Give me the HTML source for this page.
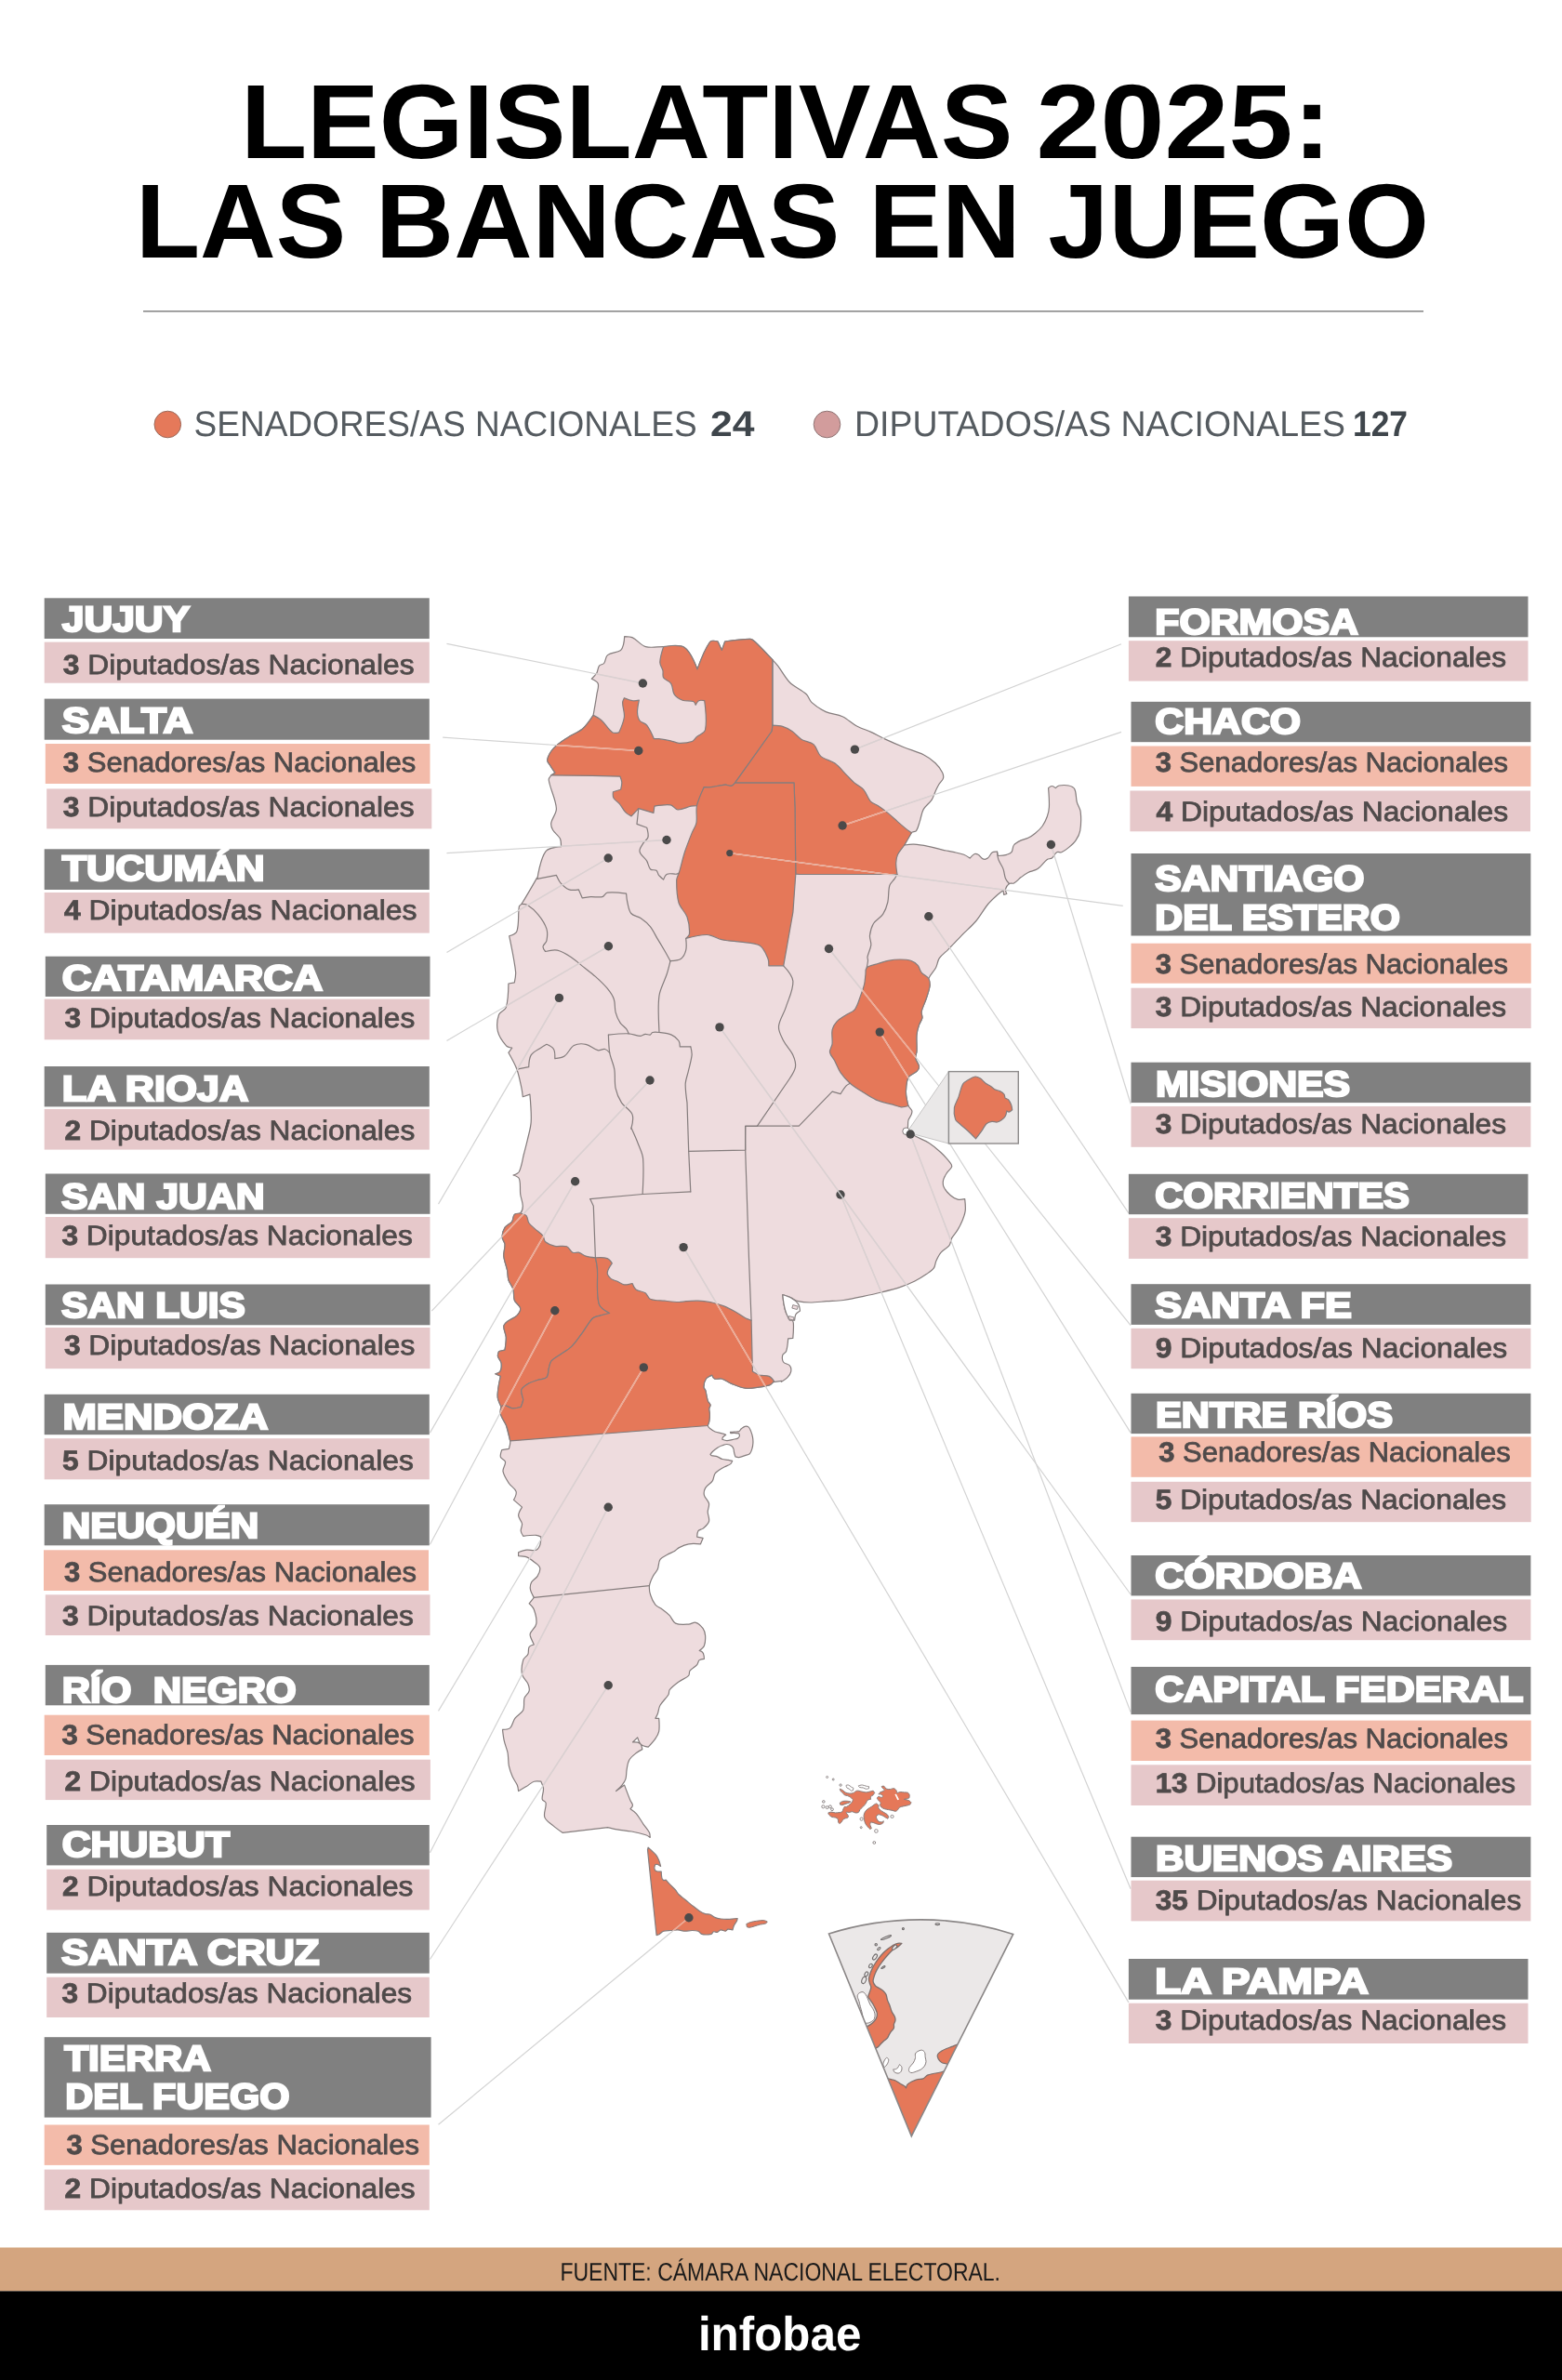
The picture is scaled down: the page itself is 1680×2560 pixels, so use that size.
<!DOCTYPE html>
<html><head><meta charset="utf-8"><title>Legislativas 2025</title>
<style>
html,body{margin:0;padding:0;background:#fff;}
svg{display:block;font-family:"Liberation Sans", sans-serif;will-change:transform;}
text{text-rendering:geometricPrecision;}
</style></head><body>
<svg width="1680" height="2560" viewBox="0 0 1680 2560">
<rect width="1680" height="2560" fill="#fff"/>
<path d="M638.1,769.4 C638.1,769.4 640.8,754.1 641.9,746.8 C642.4,743.1 644.4,738.8 643.2,735.3 C642.3,732.7 636.3,730.2 636.3,730.2 C636.3,730.2 640.5,726.2 641.9,723.8 C643.2,721.6 642.9,718.2 644.5,716.1 C645.6,714.6 648.5,714.9 649.6,713.5 C651.5,711.1 651.1,706.5 653.5,704.6 C657.3,701.6 663.6,702.1 667.6,699.4 C669.5,698.1 670.0,695.2 670.6,693.0 C671.3,690.4 671.7,684.6 671.7,684.6 C671.7,684.6 677.9,684.7 680.4,685.9 C685.3,688.3 689.2,694.1 694.4,695.6 C700.3,697.3 707.5,695.5 713.6,695.6 C720.8,695.7 730.2,692.4 736.2,696.4 C743.5,701.2 750.0,719.9 750.0,719.9 C750.0,719.9 757.5,698.8 763.6,690.5 C765.2,688.3 772.0,690.0 772.0,690.0 L776.4,699.4 L779.7,690.0 C779.7,690.0 798.3,687.3 807.1,687.4 C809.0,687.4 810.8,689.2 812.2,690.5 C818.5,696.4 825.0,703.5 830.9,709.7 C832.8,711.7 834.9,713.9 836.6,716.1 C840.9,721.7 844.4,729.0 849.4,734.0 C854.4,739.0 862.1,742.0 867.3,746.8 C869.7,749.0 870.4,753.2 872.8,755.4 C877.2,759.4 882.8,763.1 888.2,765.6 C893.6,768.1 900.7,768.2 906.1,770.7 C911.5,773.2 916.3,778.2 921.5,781.0 C926.2,783.5 932.0,785.2 936.8,787.4 C941.8,789.7 947.2,792.8 952.2,795.1 C958.7,798.1 966.1,801.3 972.7,804.0 C979.2,806.6 986.9,808.6 993.2,811.7 C997.7,813.9 1002.4,817.3 1006.0,820.7 C1009.0,823.5 1011.8,827.3 1013.6,830.9 C1014.5,832.7 1015.0,835.3 1014.4,837.3 C1013.7,839.7 1011.1,841.5 1009.8,843.7 C1008.4,846.1 1007.2,848.9 1006.0,851.4 C1004.7,854.3 1003.8,857.8 1002.1,860.4 C999.7,864.0 995.3,866.8 993.2,870.6 C991.1,874.3 990.7,879.3 989.3,883.4 C988.2,886.7 987.5,890.8 985.5,893.6 C984.5,895.0 981.5,894.3 980.4,895.7 C977.3,899.5 972.7,909.0 972.7,909.0 C972.7,909.0 979.6,908.0 982.9,908.2 C987.9,908.5 993.4,909.4 998.3,910.3 C1003.3,911.3 1008.7,913.0 1013.6,914.1 C1017.7,915.0 1022.4,915.8 1026.5,916.7 C1029.8,917.4 1033.6,918.1 1036.7,919.3 C1038.9,920.2 1043.1,923.1 1043.1,923.1 C1043.1,923.1 1046.2,919.4 1048.2,918.5 C1049.4,918.0 1051.0,918.6 1052.1,919.3 C1054.0,920.4 1055.1,923.1 1057.2,923.9 C1058.7,924.5 1061.0,924.1 1062.3,923.1 C1064.4,921.6 1065.2,918.2 1067.4,916.7 C1068.8,915.8 1072.5,916.2 1072.5,916.2 L1073.3,920.5 C1073.3,920.5 1079.8,920.1 1082.8,919.3 C1084.6,918.8 1086.8,918.2 1087.9,916.7 C1089.5,914.6 1088.9,911.0 1090.5,909.0 C1092.4,906.7 1095.6,905.2 1098.2,903.9 C1100.5,902.7 1103.5,902.5 1105.8,901.3 C1108.4,900.0 1111.2,898.1 1113.5,896.2 C1116.2,894.0 1119.2,891.3 1121.2,888.5 C1123.3,885.5 1125.1,881.7 1126.3,878.3 C1127.4,875.1 1128.3,871.4 1128.4,868.0 C1128.7,861.5 1127.6,847.6 1127.6,847.6 C1127.6,847.6 1130.0,845.5 1131.4,845.5 C1132.8,845.5 1135.3,847.6 1135.3,847.6 C1135.3,847.6 1137.7,845.3 1139.1,845.0 C1142.3,844.4 1146.2,844.3 1149.4,845.0 C1151.7,845.5 1154.7,846.7 1155.8,848.8 C1157.8,852.9 1157.1,858.5 1158.3,862.9 C1159.2,866.3 1161.8,869.7 1162.2,873.2 C1162.9,879.7 1162.8,887.2 1161.7,893.6 C1161.1,897.2 1159.1,900.9 1157.1,903.9 C1155.1,906.8 1152.1,909.4 1149.4,911.6 C1147.1,913.5 1144.4,915.6 1141.7,916.7 C1140.2,917.3 1138.0,915.8 1136.6,916.7 C1134.4,918.1 1133.5,921.5 1131.4,923.1 C1130.1,924.1 1127.6,923.4 1126.3,924.4 C1122.6,927.2 1119.9,932.0 1116.1,934.6 C1113.2,936.6 1108.9,936.9 1105.8,938.5 C1103.2,939.8 1100.5,941.8 1098.2,943.6 C1095.6,945.5 1093.3,948.5 1090.5,950.0 C1089.1,950.8 1086.7,949.5 1085.4,950.5 C1083.6,951.8 1082.0,954.2 1081.5,956.4 C1081.1,958.0 1082.8,961.5 1082.8,961.5 L1079.7,962.3 L1079.0,957.7 C1079.0,957.7 1074.4,961.0 1072.5,962.8 C1069.1,965.9 1065.2,969.4 1062.3,973.0 C1057.8,978.5 1054.1,985.6 1049.5,991.0 C1045.0,996.3 1039.0,1001.3 1034.1,1006.3 C1029.3,1011.2 1024.1,1016.9 1019.3,1021.8 C1016.5,1024.7 1012.5,1027.3 1010.3,1030.7 C1008.4,1033.6 1008.1,1037.9 1006.5,1041.0 C1004.4,1044.9 1000.2,1048.3 998.8,1052.5 C998.0,1054.9 1000.4,1057.7 1000.1,1060.2 C999.5,1064.8 997.6,1069.8 996.2,1074.3 C994.7,1078.8 992.1,1083.6 991.1,1088.3 C990.7,1090.4 992.3,1092.7 991.9,1094.8 C991.4,1097.4 989.3,1099.9 988.5,1102.4 C987.4,1105.6 986.3,1109.3 986.0,1112.7 C985.5,1118.4 986.3,1124.9 986.0,1130.6 C985.9,1133.1 984.3,1135.8 984.7,1138.3 C985.2,1141.4 988.2,1144.1 988.5,1147.2 C988.7,1149.0 987.3,1151.1 986.0,1152.4 C983.5,1154.9 978.7,1155.7 977.0,1158.8 C974.7,1163.2 974.7,1169.1 974.4,1174.1 C974.2,1177.4 975.1,1181.1 975.7,1184.4 C976.0,1186.1 976.2,1188.0 977.0,1189.5 C977.9,1191.3 980.1,1192.7 980.8,1194.6 C981.2,1195.8 980.7,1197.3 980.3,1198.5 C979.5,1200.7 977.7,1202.7 977.0,1204.9 C976.4,1206.9 976.6,1209.2 976.5,1211.3 C976.5,1212.8 975.9,1214.7 976.7,1215.9 C978.4,1218.3 981.3,1220.3 983.9,1221.8 C988.6,1224.6 994.7,1226.5 999.3,1229.4 C1003.7,1232.2 1008.3,1236.1 1012.1,1239.7 C1015.7,1243.1 1019.4,1247.3 1022.3,1251.2 C1023.1,1252.3 1024.1,1253.9 1023.6,1255.1 C1022.7,1257.6 1019.9,1259.3 1018.5,1261.5 C1017.0,1263.8 1015.2,1266.4 1014.6,1269.1 C1014.1,1271.5 1014.1,1274.6 1015.1,1276.8 C1016.6,1280.1 1019.5,1283.3 1022.3,1285.8 C1024.4,1287.7 1027.3,1289.4 1030.0,1290.1 C1032.4,1290.7 1037.7,1289.6 1037.7,1289.6 C1037.7,1289.6 1038.7,1298.3 1038.2,1302.4 C1037.8,1305.8 1036.4,1309.5 1035.1,1312.7 C1033.7,1316.1 1031.9,1319.8 1030.0,1322.9 C1028.2,1325.9 1025.3,1328.8 1023.6,1331.9 C1022.4,1334.2 1022.6,1337.5 1021.0,1339.6 C1018.7,1342.6 1014.5,1344.3 1012.1,1347.2 C1009.9,1349.7 1008.3,1353.2 1006.9,1356.2 C1005.8,1358.6 1005.9,1361.8 1004.4,1363.9 C1002.5,1366.5 999.3,1368.5 996.7,1370.3 C992.8,1373.0 988.2,1375.9 983.9,1378.0 C979.1,1380.4 973.6,1382.7 968.5,1384.4 C962.1,1386.6 954.6,1388.4 948.0,1390.0 C941.5,1391.6 934.2,1393.2 927.6,1394.6 C921.1,1396.0 913.7,1397.6 907.1,1398.5 C901.4,1399.3 894.9,1399.3 889.1,1399.7 C883.4,1400.1 876.9,1401.0 871.2,1401.0 C867.1,1401.0 862.4,1400.7 858.4,1399.7 C855.7,1399.0 853.2,1397.0 850.7,1395.9 C847.9,1394.7 841.8,1392.6 841.8,1392.6 C841.8,1392.6 842.4,1399.2 843.0,1402.3 C843.6,1405.6 844.1,1409.5 845.6,1412.5 C846.6,1414.6 849.3,1415.8 850.7,1417.7 C851.8,1419.2 853.1,1421.0 853.3,1422.8 C853.8,1428.1 852.8,1439.4 852.8,1439.4 L847.7,1439.9 C847.7,1439.9 847.0,1449.3 845.6,1453.5 C845.0,1455.2 842.3,1455.7 841.8,1457.4 C841.2,1459.8 841.2,1463.0 842.5,1465.0 C843.9,1467.1 847.8,1466.9 849.4,1468.9 C850.7,1470.5 851.1,1473.2 850.7,1475.3 C850.2,1477.6 848.5,1480.0 846.9,1481.7 C845.2,1483.5 840.5,1486.3 840.5,1486.3 L840.6,1485.4 L831.6,1486.6 L832.4,1485.5 C832.4,1485.5 830.2,1488.7 828.6,1489.4 C825.1,1490.9 820.8,1491.4 817.1,1491.9 C812.2,1492.6 806.6,1493.8 801.7,1493.2 C796.5,1492.6 791.1,1490.0 786.3,1488.1 C782.9,1486.7 779.6,1484.0 776.1,1483.0 C773.7,1482.3 770.7,1483.9 768.4,1483.0 C767.0,1482.5 765.8,1479.1 765.8,1479.1 C765.8,1479.1 760.8,1481.0 759.4,1483.0 C757.7,1485.4 757.0,1488.9 756.9,1491.9 C756.8,1493.3 758.5,1494.5 758.9,1495.9 C759.5,1497.9 759.7,1500.3 760.2,1502.3 C760.6,1503.9 760.8,1505.9 761.5,1507.4 C762.1,1508.7 763.8,1509.8 764.0,1511.2 C764.2,1512.5 762.8,1513.8 762.7,1515.1 C762.6,1517.2 763.4,1519.4 763.4,1521.5 C763.4,1523.9 763.1,1526.7 762.7,1529.1 C762.4,1530.6 761.0,1532.0 761.2,1533.5 C761.4,1534.9 762.9,1535.9 764.0,1536.8 C765.5,1538.0 767.3,1539.3 769.1,1540.0 C771.5,1540.9 774.4,1541.2 776.8,1541.9 C778.1,1542.2 780.7,1543.2 780.7,1543.2 C780.7,1543.2 778.3,1544.8 777.5,1545.8 C777.0,1546.5 776.8,1548.3 776.8,1548.3 C776.8,1548.3 780.2,1549.6 781.9,1549.6 C784.0,1549.6 786.3,1548.7 788.3,1548.3 C790.0,1547.9 792.0,1547.9 793.5,1547.1 C794.4,1546.6 795.2,1545.5 795.4,1544.5 C795.6,1543.7 794.8,1541.9 794.8,1541.9 C794.8,1541.9 791.3,1541.3 789.6,1541.3 C788.4,1541.3 785.8,1541.7 785.8,1541.7 L785.5,1540.4 C785.5,1540.4 788.3,1540.1 789.6,1540.0 C791.3,1539.9 793.3,1540.2 794.8,1539.6 C795.9,1539.1 796.4,1537.6 797.3,1536.8 C798.4,1535.9 799.8,1534.7 801.2,1534.3 C802.4,1534.0 804.0,1534.1 805.0,1534.9 C806.3,1535.9 807.0,1537.9 807.6,1539.4 C808.4,1541.4 809.1,1543.7 809.5,1545.8 C809.9,1547.8 810.0,1550.2 809.9,1552.2 C809.8,1554.3 809.4,1556.6 808.8,1558.6 C808.3,1560.3 807.6,1562.5 806.3,1563.7 C805.0,1564.9 802.8,1565.0 801.2,1565.6 C799.2,1566.3 796.9,1567.3 794.8,1567.6 C793.5,1567.8 790.9,1566.9 790.9,1566.9 C790.9,1566.9 789.9,1563.9 789.6,1562.4 C789.3,1561.2 789.4,1559.8 789.0,1558.6 C788.6,1557.5 788.1,1556.1 787.1,1555.4 C785.7,1554.4 783.7,1553.6 781.9,1553.5 C780.2,1553.4 778.4,1554.2 776.8,1554.8 C775.1,1555.4 773.2,1556.3 771.7,1557.3 C770.0,1558.4 768.1,1559.8 766.6,1561.2 C765.6,1562.1 764.0,1564.4 764.0,1564.4 C764.0,1564.4 764.8,1565.4 765.3,1565.6 C767.3,1566.2 769.7,1566.2 771.7,1566.9 C773.4,1567.5 775.0,1569.0 776.8,1569.5 C778.8,1570.1 781.2,1570.0 783.2,1570.4 C784.7,1570.7 787.7,1571.4 787.7,1571.4 C787.7,1571.4 786.7,1573.9 785.8,1574.6 C784.0,1576.0 781.4,1576.7 779.4,1577.8 C777.3,1578.9 774.9,1580.2 773.0,1581.6 C771.6,1582.6 769.8,1583.7 768.9,1585.2 C767.6,1587.4 767.7,1590.7 766.3,1592.9 C764.4,1595.8 760.3,1597.6 758.6,1600.6 C757.4,1602.8 756.8,1605.9 757.4,1608.3 C758.2,1611.5 761.8,1614.0 762.5,1617.2 C763.1,1620.0 761.2,1623.3 761.2,1626.2 C761.2,1629.5 763.4,1633.3 762.5,1636.5 C761.6,1639.6 758.5,1642.0 756.1,1644.1 C754.7,1645.3 752.1,1645.2 751.0,1646.7 C749.8,1648.4 749.7,1653.1 749.7,1653.1 L756.1,1654.4 L753.5,1660.8 C753.5,1660.8 744.7,1660.1 740.7,1660.8 C737.3,1661.4 733.6,1663.0 730.5,1664.6 C728.7,1665.5 727.2,1667.4 725.4,1668.5 C723.0,1669.9 720.1,1670.9 717.7,1672.3 C715.1,1673.8 711.6,1674.9 710.0,1677.4 C708.1,1680.2 708.7,1684.6 707.4,1687.7 C706.2,1690.4 703.6,1692.8 702.3,1695.4 C700.7,1698.5 698.9,1702.1 698.5,1705.6 C698.1,1708.9 698.7,1712.7 699.7,1715.8 C700.8,1719.3 702.5,1723.3 704.9,1726.1 C706.8,1728.4 710.2,1729.4 712.5,1731.2 C715.1,1733.1 718.0,1735.3 720.2,1737.6 C722.5,1740.1 723.5,1744.7 726.6,1746.1 C730.7,1748.0 736.2,1747.3 740.7,1747.1 C743.2,1747.0 746.0,1744.6 748.4,1745.3 C751.5,1746.2 754.2,1749.1 756.1,1751.7 C757.6,1753.8 758.4,1756.8 758.6,1759.4 C758.8,1762.9 758.7,1767.0 757.4,1770.2 C756.5,1772.4 752.2,1775.4 752.2,1775.4 C752.2,1775.4 755.4,1776.6 756.1,1777.9 C757.2,1779.7 757.4,1784.3 757.4,1784.3 C757.4,1784.3 753.5,1784.5 752.2,1785.6 C750.8,1786.8 750.9,1789.3 749.7,1790.7 C747.6,1793.1 744.0,1794.6 742.0,1797.1 C740.9,1798.5 741.9,1801.1 740.7,1802.3 C738.0,1805.0 733.6,1806.4 730.5,1808.7 C727.0,1811.3 723.0,1814.2 720.2,1817.6 C719.1,1818.9 719.9,1821.3 719.0,1822.7 C716.6,1826.7 712.3,1830.2 710.0,1834.3 C708.5,1836.9 708.4,1840.4 707.4,1843.2 C706.8,1844.9 704.9,1848.3 704.9,1848.3 L708.7,1848.3 C708.7,1848.3 709.5,1858.0 708.7,1862.4 C708.2,1865.1 706.5,1867.8 704.9,1870.1 C702.8,1873.2 697.2,1879.1 697.2,1879.1 C697.2,1879.1 691.4,1878.2 689.5,1876.5 C687.5,1874.7 685.7,1868.8 685.7,1868.8 L680.5,1874.0 C680.5,1874.0 686.2,1873.7 688.2,1875.2 C690.0,1876.5 690.8,1881.6 690.8,1881.6 C690.8,1881.6 686.3,1884.0 684.4,1885.5 C681.7,1887.7 678.4,1890.2 676.7,1893.2 C675.0,1896.1 674.7,1900.1 674.1,1903.4 C673.5,1906.6 673.9,1910.5 672.9,1913.6 C672.2,1915.9 670.5,1918.2 669.0,1920.1 C667.2,1922.4 662.6,1926.5 662.6,1926.5 L671.6,1920.1 C671.6,1920.1 675.8,1931.4 678.0,1936.7 C678.7,1938.4 680.5,1940.0 680.5,1941.8 C680.5,1943.3 678.0,1945.7 678.0,1945.7 C678.0,1945.7 682.7,1948.8 684.4,1950.8 C687.3,1954.2 689.6,1958.7 692.1,1962.3 C694.1,1965.2 696.9,1968.1 698.5,1971.3 C699.2,1972.8 699.2,1976.4 699.2,1976.4 C699.2,1976.4 696.2,1974.3 694.6,1973.8 C689.8,1972.3 684.3,1971.0 679.3,1970.0 C674.4,1969.1 668.8,1968.7 663.9,1967.9 C660.6,1967.3 653.6,1965.6 653.6,1965.6 L605.0,1971.3 C605.0,1971.3 597.9,1966.3 594.8,1963.6 C591.7,1960.9 587.0,1958.5 585.8,1954.6 C584.3,1949.9 587.8,1944.2 587.1,1939.3 C586.9,1937.6 583.5,1937.1 583.2,1935.4 C582.6,1931.7 584.8,1927.6 584.5,1923.9 C584.3,1921.3 581.9,1916.2 581.9,1916.2 C581.9,1916.2 576.6,1915.4 574.3,1916.2 C571.5,1917.1 569.1,1919.7 566.6,1921.3 C563.8,1923.0 557.6,1926.5 557.6,1926.5 C557.6,1926.5 557.1,1922.0 556.3,1920.1 C555.0,1917.0 552.5,1914.1 551.2,1911.1 C549.7,1907.5 548.2,1903.4 547.4,1899.6 C546.5,1895.2 546.9,1890.0 546.1,1885.5 C545.3,1881.3 543.2,1876.9 542.3,1872.7 C541.4,1868.8 540.5,1860.4 540.5,1860.4 C540.5,1860.4 546.7,1860.4 548.7,1858.6 C551.4,1856.1 551.6,1851.3 553.8,1848.3 C556.2,1845.0 561.0,1843.0 562.7,1839.4 C564.5,1835.7 562.8,1830.5 564.0,1826.6 C564.9,1823.8 568.4,1821.8 569.1,1818.9 C569.7,1816.5 568.9,1813.5 567.9,1811.2 C566.4,1807.7 562.3,1804.8 561.5,1801.0 C560.5,1796.2 561.3,1790.3 562.7,1785.6 C563.4,1783.1 566.8,1781.6 567.9,1779.2 C568.9,1776.9 567.8,1773.6 569.1,1771.5 C570.1,1769.9 574.3,1769.0 574.3,1769.0 C574.3,1769.0 571.4,1763.0 570.4,1760.0 C570.1,1759.0 570.0,1757.7 570.4,1756.8 C572.1,1753.3 576.2,1750.4 576.8,1746.6 C577.6,1741.7 576.0,1735.9 574.3,1731.2 C573.4,1728.7 569.1,1724.8 569.1,1724.8 L574.3,1718.4 C574.3,1718.4 570.9,1712.5 570.4,1709.4 C570.0,1707.0 570.5,1704.0 571.7,1701.8 C573.1,1699.3 576.6,1697.9 578.1,1695.4 C579.6,1692.8 581.4,1689.3 580.7,1686.4 C580.0,1683.6 576.5,1681.8 574.3,1680.0 C572.0,1678.1 569.4,1676.0 566.6,1674.9 C563.9,1673.9 557.6,1673.6 557.6,1673.6 L557.6,1669.7 C557.6,1669.7 563.6,1667.6 566.6,1667.2 C569.8,1666.8 573.7,1668.3 576.8,1667.2 C578.7,1666.5 580.0,1664.0 580.7,1662.1 C581.7,1659.4 581.9,1653.1 581.9,1653.1 C581.9,1653.1 578.5,1651.4 576.8,1651.3 C572.3,1651.1 562.7,1652.3 562.7,1652.3 C562.7,1652.3 560.4,1648.7 560.2,1646.7 C560.0,1644.2 561.9,1641.5 561.5,1639.0 C561.0,1635.9 557.6,1633.2 557.6,1630.1 C557.6,1627.0 561.5,1621.1 561.5,1621.1 L552.5,1613.4 C552.5,1613.4 555.9,1607.3 555.1,1604.4 C554.1,1600.8 549.5,1598.7 547.4,1595.5 C544.9,1591.7 541.8,1587.2 541.0,1582.7 C540.4,1579.4 544.1,1575.7 543.5,1572.4 C543.1,1570.1 539.1,1569.5 538.4,1567.3 C537.7,1564.9 539.7,1559.6 539.7,1559.6 L547.4,1558.3 C547.4,1558.3 549.2,1552.6 548.7,1549.9 C546.4,1537.9 538.9,1513.0 538.9,1513.0 C538.9,1513.0 537.7,1518.7 538.4,1521.2 C539.6,1525.6 543.3,1529.7 544.8,1534.0 C546.6,1538.9 548.7,1549.9 548.7,1549.9 C548.7,1549.9 542.3,1524.7 538.9,1513.0 C538.0,1509.8 535.8,1506.6 535.3,1503.3 C534.8,1500.0 535.5,1496.3 535.9,1493.0 C536.5,1488.9 538.4,1480.2 538.4,1480.2 L532.8,1477.8 C532.8,1477.8 537.0,1476.9 537.9,1475.3 C539.3,1472.8 539.6,1469.2 539.2,1466.3 C538.8,1463.6 535.9,1461.3 535.4,1458.6 C535.1,1457.0 536.6,1453.5 536.6,1453.5 L543.0,1452.2 C543.0,1452.2 544.5,1442.7 544.3,1438.2 C544.1,1434.4 541.5,1430.4 541.8,1426.6 C542.0,1424.6 544.0,1422.8 545.6,1421.5 C548.6,1419.0 553.2,1417.8 555.9,1415.1 C557.8,1413.2 560.1,1410.1 559.7,1407.4 C559.2,1403.9 554.5,1401.8 553.3,1398.5 C552.0,1395.0 553.1,1390.5 552.0,1386.9 C551.0,1383.4 548.0,1380.2 546.9,1376.7 C545.9,1373.6 546.2,1369.7 545.6,1366.5 C544.6,1361.5 542.3,1356.2 541.8,1351.1 C541.4,1347.0 543.4,1342.4 543.0,1338.3 C542.8,1335.7 540.0,1333.2 540.0,1330.6 C540.0,1327.2 541.2,1323.3 543.0,1320.4 C544.7,1317.7 548.8,1316.6 550.7,1314.0 C552.2,1311.9 551.5,1308.1 553.3,1306.3 C554.8,1304.8 558.2,1306.5 559.7,1305.0 C561.5,1303.2 562.3,1299.9 562.3,1297.3 C562.3,1293.1 560.2,1288.6 559.7,1284.5 C559.0,1279.2 560.3,1272.9 558.4,1267.9 C557.6,1265.7 552.0,1264.0 552.0,1264.0 C552.0,1264.0 557.3,1262.3 558.4,1260.2 C561.2,1254.5 561.9,1247.2 563.5,1241.0 C564.8,1236.1 566.3,1230.6 567.4,1225.6 C568.8,1219.5 570.9,1212.8 571.2,1206.6 C571.7,1197.2 569.9,1177.1 569.9,1177.1 L562.3,1179.7 C562.3,1179.7 561.6,1173.5 561.0,1170.7 C559.6,1164.1 558.2,1156.5 555.9,1150.2 C553.7,1144.2 546.9,1132.3 546.9,1132.3 L550.7,1127.2 C550.7,1127.2 545.7,1126.3 544.3,1124.6 C540.6,1120.3 536.7,1114.8 535.4,1109.3 C534.1,1103.7 534.7,1096.8 536.6,1091.3 C537.7,1088.0 543.3,1086.9 544.3,1083.6 C546.7,1075.7 546.9,1058.0 546.9,1058.0 L553.3,1056.8 C553.3,1056.8 555.0,1048.9 554.6,1045.2 C553.2,1032.8 547.7,1006.8 547.7,1006.8 C547.7,1006.8 554.9,1004.6 555.9,1001.7 C558.6,993.5 556.9,983.3 558.4,974.8 C558.6,973.7 560.4,973.3 561.0,972.3 C566.6,963.4 577.6,944.1 577.6,944.1 L577.9,945.3 C577.9,945.3 581.0,923.7 586.9,915.8 C590.2,911.3 603.5,910.7 603.5,910.7 C603.5,910.7 603.6,904.4 602.3,901.8 C600.6,898.4 596.5,896.1 594.6,892.8 C593.3,890.6 592.4,887.6 592.8,885.1 C593.7,879.9 598.7,874.9 598.4,869.7 C597.8,859.5 591.8,849.0 590.2,839.0 C589.9,837.2 591.6,835.3 592.8,833.9 C593.9,832.7 597.1,831.3 597.1,831.3 C597.1,831.3 593.5,826.1 592.0,823.6 C590.8,821.6 588.2,819.5 588.7,817.2 C589.6,812.6 592.7,807.8 595.9,804.4 C600.1,799.9 606.1,796.3 611.2,792.9 C615.9,789.7 622.3,787.7 626.6,784.0 C631.1,780.1 638.1,769.4 638.1,769.4 L638.1,769.4Z" fill="#eedcde" stroke="#857d7d" stroke-width="1.2" stroke-linejoin="round"/>
<path d="M841.8,1392.6 C841.8,1392.6 848.1,1394.4 850.7,1395.9 C853.5,1397.5 856.6,1399.7 858.4,1402.3 C859.9,1404.4 860.5,1410.0 860.5,1410.0 C860.5,1410.0 856.9,1412.1 855.9,1413.8 C854.9,1415.6 854.6,1420.2 854.6,1420.2 L849.4,1420.2 C849.4,1420.2 846.5,1415.1 845.6,1412.5 C844.5,1409.3 843.6,1405.6 843.0,1402.3 C842.4,1399.2 841.8,1392.6 841.8,1392.6Z" fill="#fff" stroke="#857d7d" stroke-width="1.2" stroke-linejoin="round"/>
<rect x="852.8" y="1403.6" width="5.6" height="3.6" fill="#eedcde" stroke="#857d7d" stroke-width="0.8" transform="rotate(15 852.8 1403.6)"/>
<rect x="848.7" y="1415.6" width="5.6" height="3.1" fill="#eedcde" stroke="#857d7d" stroke-width="0.8" transform="rotate(15 848.7 1415.6)"/>
<path d="M713.6,695.6 C713.6,695.6 730.2,692.4 736.2,696.4 C743.5,701.2 750.0,719.9 750.0,719.9 C750.0,719.9 757.5,698.8 763.6,690.5 C765.2,688.3 772.0,690.0 772.0,690.0 L776.4,699.4 L779.7,690.0 C779.7,690.0 798.3,687.3 807.1,687.4 C809.0,687.4 810.8,689.2 812.2,690.5 C818.5,696.4 830.9,709.7 830.9,709.7 L830.9,780.1 L830.2,786.5 L790.5,842.1 C790.5,842.1 788.2,845.1 786.6,845.4 C784.5,845.8 782.3,844.0 780.2,844.1 C775.2,844.4 769.8,846.1 764.9,846.7 C762.5,847.0 757.2,846.7 757.2,846.7 L749.5,866.7 C749.5,866.7 745.1,866.8 743.1,867.2 C738.5,868.2 733.7,871.3 729.0,871.0 C726.0,870.8 724.2,866.3 721.3,865.9 C715.8,865.1 703.9,867.2 703.9,867.2 L702.9,874.4 L686.8,869.7 L679.1,877.9 C679.1,877.9 674.4,875.4 672.7,873.6 C670.2,871.1 668.6,867.3 666.3,864.6 C664.4,862.4 661.3,860.7 659.9,858.2 C658.9,856.4 659.4,851.8 659.4,851.8 L667.6,849.3 C667.6,849.3 668.9,844.1 668.8,841.6 C668.7,839.5 667.0,835.2 667.0,835.2 L636.8,834.4 L592.8,833.9 L597.1,831.3 C597.1,831.3 593.5,826.1 592.0,823.6 C590.8,821.6 588.2,819.5 588.7,817.2 C589.6,812.6 592.7,807.8 595.9,804.4 C600.1,799.9 606.1,796.3 611.2,792.9 C615.9,789.7 622.3,787.7 626.6,784.0 C631.1,780.1 638.1,769.4 638.1,769.4 C638.1,769.4 644.6,772.7 647.1,775.0 C651.2,778.7 654.1,784.7 658.6,787.8 C660.5,789.1 665.8,787.8 665.8,787.8 C665.8,787.8 670.7,776.8 671.4,771.2 C672.0,766.3 669.6,760.8 669.6,755.8 C669.6,754.1 671.4,750.7 671.4,750.7 C671.4,750.7 677.4,753.2 680.4,753.7 C682.6,754.0 687.3,753.2 687.3,753.2 C687.3,753.2 685.4,761.9 685.5,766.0 C685.6,769.0 686.2,772.6 688.0,775.0 C689.7,777.4 693.9,777.8 695.7,780.1 C699.0,784.3 703.4,794.7 703.4,794.7 C703.4,794.7 706.9,794.5 708.5,794.7 C712.6,795.2 717.2,795.9 721.3,796.8 C724.2,797.4 727.3,799.2 730.3,799.3 C734.8,799.4 740.1,799.0 744.4,797.5 C746.6,796.7 747.8,793.9 749.5,792.4 C752.3,790.0 757.7,788.8 758.5,785.2 C760.6,775.3 757.7,753.7 757.7,753.7 C757.7,753.7 753.3,752.8 751.5,753.7 C749.9,754.5 748.2,758.3 748.2,758.3 C748.2,758.3 747.1,755.0 745.7,754.5 C742.2,753.2 737.6,754.5 734.1,753.2 C730.8,752.0 727.2,749.7 725.2,746.8 C723.0,743.6 723.9,738.5 721.8,735.3 C720.0,732.5 715.4,731.7 713.6,728.9 C712.3,726.8 713.5,723.6 712.9,721.2 C712.2,718.3 709.7,715.3 709.8,712.3 C709.9,706.8 713.6,695.6 713.6,695.6 L713.6,695.6Z" fill="#e57859" stroke="#857d7d" stroke-width="1.2" stroke-linejoin="round"/>
<path d="M830.9,780.1 C830.9,780.1 838.4,780.4 841.7,781.4 C845.2,782.5 848.9,784.4 851.9,786.5 C855.5,789.0 858.5,793.2 862.2,795.5 C866.0,797.8 871.7,797.7 875.0,800.6 C878.6,803.7 879.1,810.2 882.7,813.4 C886.8,817.0 893.6,817.9 898.0,821.1 C902.7,824.5 906.7,829.8 910.8,833.9 C913.3,836.4 915.9,839.3 918.5,841.6 C921.6,844.3 926.1,846.2 928.8,849.3 C931.9,852.9 933.2,858.6 936.4,862.1 C938.4,864.3 942.0,865.1 944.5,866.8 C947.9,869.1 951.6,871.8 954.8,874.4 C958.2,877.1 961.7,880.5 965.0,883.4 C967.9,885.9 971.0,888.7 974.0,891.1 C976.0,892.7 980.4,895.7 980.4,895.7 C980.4,895.7 975.3,904.8 972.7,909.0 C970.6,912.4 967.2,915.7 965.5,919.3 C964.3,921.9 963.8,925.3 963.7,928.2 C963.6,932.2 965.0,940.5 965.0,940.5 L860.0,940.5 L855.8,940.2 L855.0,869.7 L854.0,842.1 L790.5,842.1 L830.2,786.5 L830.9,780.1Z" fill="#e57859" stroke="#857d7d" stroke-width="1.2" stroke-linejoin="round"/>
<path d="M790.5,842.1 L854.0,842.1 L855.0,869.7 L855.8,940.2 L852.9,981.2 L842.7,1038.8 L826.8,1038.8 C826.8,1038.8 827.0,1033.4 826.0,1031.2 C823.8,1026.3 821.7,1019.9 817.1,1017.1 C811.4,1013.6 803.2,1014.2 796.6,1013.2 C792.5,1012.6 787.9,1012.4 783.8,1011.9 C781.3,1011.6 778.5,1011.4 776.1,1010.7 C771.1,1009.3 765.9,1005.7 760.7,1005.5 C753.2,1005.2 737.7,1009.4 737.7,1009.4 C737.7,1009.4 741.4,1006.3 741.5,1004.3 C741.8,998.5 740.9,991.8 739.0,986.3 C737.1,980.9 731.6,976.5 730.0,971.0 C727.9,963.5 727.6,954.4 727.7,946.6 C727.7,944.0 729.6,941.4 730.3,938.9 C732.5,931.5 734.3,923.1 736.7,915.8 C738.9,909.2 741.8,901.9 744.4,895.4 C745.7,892.0 748.4,888.7 749.0,885.1 C750.0,879.3 748.3,872.5 749.5,866.7 C750.9,860.0 757.2,846.7 757.2,846.7 C757.2,846.7 762.5,847.0 764.9,846.7 C769.8,846.1 775.2,844.4 780.2,844.1 C782.3,844.0 784.5,845.8 786.6,845.4 C788.2,845.1 790.5,842.1 790.5,842.1 L790.5,842.1Z" fill="#e57859" stroke="#857d7d" stroke-width="1.2" stroke-linejoin="round"/>
<path d="M932.2,1041.0 C934.7,1038.5 939.1,1038.2 942.4,1037.1 C946.5,1035.7 951.0,1034.1 955.2,1033.3 C959.2,1032.5 963.9,1032.0 968.0,1032.0 C971.7,1032.0 976.1,1032.1 979.6,1033.3 C982.4,1034.2 985.2,1036.2 987.2,1038.4 C989.0,1040.5 989.3,1044.0 991.1,1046.1 C993.1,1048.6 997.1,1049.8 998.8,1052.5 C1000.1,1054.6 1000.4,1057.7 1000.1,1060.2 C999.5,1064.8 997.6,1069.8 996.2,1074.3 C994.7,1078.8 992.1,1083.6 991.1,1088.3 C990.7,1090.4 992.3,1092.7 991.9,1094.8 C991.4,1097.4 989.3,1099.9 988.5,1102.4 C987.4,1105.6 986.3,1109.3 986.0,1112.7 C985.5,1118.4 986.3,1124.9 986.0,1130.6 C985.9,1133.1 984.3,1135.8 984.7,1138.3 C985.2,1141.4 988.2,1144.1 988.5,1147.2 C988.7,1149.0 987.3,1151.1 986.0,1152.4 C983.5,1154.9 978.7,1155.7 977.0,1158.8 C974.7,1163.2 974.7,1169.1 974.4,1174.1 C974.2,1177.4 975.1,1181.1 975.7,1184.4 C976.0,1186.1 977.0,1189.5 977.0,1189.5 C977.0,1189.5 971.8,1191.0 969.3,1190.8 C966.3,1190.6 963.3,1189.0 960.4,1188.2 C954.6,1186.6 947.9,1185.4 942.4,1183.1 C937.2,1180.9 931.9,1177.2 927.1,1174.1 C922.9,1171.4 918.0,1168.5 914.3,1165.2 C910.6,1161.9 906.8,1157.7 904.0,1153.6 C901.4,1149.8 899.7,1144.8 897.6,1140.8 C896.1,1137.9 893.0,1135.2 892.5,1131.9 C892.1,1128.9 894.8,1125.9 895.1,1122.9 C895.6,1118.0 894.1,1112.4 895.1,1107.6 C895.8,1104.4 898.0,1101.0 900.2,1098.6 C902.6,1096.0 906.2,1094.1 909.1,1092.2 C912.3,1090.0 917.0,1088.9 919.4,1085.8 C922.6,1081.6 923.9,1075.4 925.8,1070.4 C927.2,1066.8 928.7,1062.7 929.6,1058.9 C930.4,1055.7 930.4,1052.0 930.9,1048.7 C931.3,1046.2 930.4,1042.8 932.2,1041.0Z" fill="#e57859" stroke="#857d7d" stroke-width="1.2" stroke-linejoin="round"/>
<path d="M559.7,1305.0 C559.7,1305.0 564.6,1305.9 566.1,1307.6 C567.8,1309.5 567.3,1313.0 568.7,1315.2 C570.3,1317.6 573.0,1319.6 575.1,1321.6 C577.9,1324.2 581.6,1326.4 584.0,1329.3 C585.4,1331.0 584.9,1334.3 586.6,1335.7 C589.3,1338.0 593.3,1339.5 596.8,1340.3 C600.8,1341.2 605.7,1339.4 609.6,1340.8 C612.3,1341.8 613.4,1345.9 616.0,1347.2 C617.8,1348.1 620.4,1346.7 622.4,1347.2 C625.1,1347.9 627.5,1350.3 630.1,1351.1 C633.3,1352.1 640.4,1352.9 640.4,1352.9 C640.4,1352.9 642.1,1360.3 642.4,1363.9 C643.3,1376.2 641.0,1390.4 644.2,1402.3 C645.5,1407.0 655.7,1412.5 655.7,1412.5 C655.7,1412.5 648.7,1414.2 645.5,1415.1 C643.0,1415.8 639.7,1415.9 637.8,1417.7 C633.7,1421.5 630.9,1427.3 627.6,1431.8 C623.6,1437.2 619.6,1443.7 614.8,1448.4 C611.2,1452.0 606.0,1454.5 601.9,1457.4 C599.0,1459.4 595.2,1461.1 593.0,1463.8 C591.4,1465.8 591.1,1468.9 590.4,1471.4 C589.5,1474.7 590.2,1479.2 587.9,1481.7 C585.9,1483.9 581.7,1483.4 578.9,1484.3 C575.6,1485.4 571.7,1486.4 568.7,1488.1 C565.9,1489.7 562.6,1491.7 561.0,1494.5 C560.0,1496.2 561.2,1498.7 561.5,1500.7 C561.8,1502.4 562.9,1504.2 562.7,1505.9 C562.4,1508.4 560.2,1513.5 560.2,1513.5 C560.2,1513.5 554.1,1515.1 551.2,1514.8 C548.2,1514.5 545.3,1511.9 542.3,1511.5 C541.1,1511.3 538.9,1513.0 538.9,1513.0 C538.9,1513.0 535.8,1506.6 535.3,1503.3 C534.8,1500.0 535.5,1496.3 535.9,1493.0 C536.5,1488.9 538.4,1480.2 538.4,1480.2 L532.8,1477.8 C532.8,1477.8 537.0,1476.9 537.9,1475.3 C539.3,1472.8 539.6,1469.2 539.2,1466.3 C538.8,1463.6 535.9,1461.3 535.4,1458.6 C535.1,1457.0 536.6,1453.5 536.6,1453.5 L543.0,1452.2 C543.0,1452.2 544.5,1442.7 544.3,1438.2 C544.1,1434.4 541.5,1430.4 541.8,1426.6 C542.0,1424.6 544.0,1422.8 545.6,1421.5 C548.6,1419.0 553.2,1417.8 555.9,1415.1 C557.8,1413.2 560.1,1410.1 559.7,1407.4 C559.2,1403.9 554.5,1401.8 553.3,1398.5 C552.0,1395.0 553.1,1390.5 552.0,1386.9 C551.0,1383.4 548.0,1380.2 546.9,1376.7 C545.9,1373.6 546.2,1369.7 545.6,1366.5 C544.6,1361.5 542.3,1356.2 541.8,1351.1 C541.4,1347.0 543.4,1342.4 543.0,1338.3 C542.8,1335.7 540.0,1333.2 540.0,1330.6 C540.0,1327.2 541.2,1323.3 543.0,1320.4 C544.7,1317.7 548.8,1316.6 550.7,1314.0 C552.2,1311.9 551.5,1308.1 553.3,1306.3 C554.8,1304.8 559.7,1305.0 559.7,1305.0 L559.7,1305.0Z" fill="#e57859" stroke="#857d7d" stroke-width="1.2" stroke-linejoin="round"/>
<path d="M640.4,1352.9 C640.4,1352.9 649.3,1352.3 653.2,1353.6 C655.4,1354.3 658.3,1358.8 658.3,1358.8 C658.3,1358.8 653.5,1365.4 653.2,1369.0 C653.0,1371.4 655.2,1373.8 657.0,1375.4 C658.7,1376.9 661.4,1377.1 663.4,1378.0 C665.9,1379.1 668.4,1381.4 671.1,1381.8 C674.0,1382.2 680.1,1380.5 680.1,1380.5 C680.1,1380.5 682.0,1385.5 683.9,1386.9 C686.7,1389.0 691.2,1388.9 694.1,1390.8 C696.3,1392.3 696.9,1396.2 699.3,1397.2 C703.9,1399.1 709.7,1398.7 714.6,1399.2 C719.5,1399.7 725.1,1400.4 730.0,1400.5 C732.5,1400.6 735.2,1399.9 737.7,1399.7 C741.8,1399.4 746.4,1399.0 750.5,1399.2 C755.4,1399.4 761.0,1400.0 765.8,1401.0 C770.0,1401.9 774.6,1403.3 778.6,1404.9 C782.8,1406.6 787.4,1409.1 791.4,1411.3 C794.8,1413.2 798.3,1415.9 801.7,1417.7 C803.6,1418.7 808.1,1420.2 808.1,1420.2 L809.4,1475.3 C809.4,1475.3 814.5,1478.3 817.1,1479.1 C820.3,1480.0 824.3,1479.1 827.3,1480.4 C829.4,1481.3 832.4,1485.5 832.4,1485.5 C832.4,1485.5 830.2,1488.7 828.6,1489.4 C825.1,1490.9 820.8,1491.4 817.1,1491.9 C812.2,1492.6 806.6,1493.8 801.7,1493.2 C796.5,1492.6 791.1,1490.0 786.3,1488.1 C782.9,1486.7 779.6,1484.0 776.1,1483.0 C773.7,1482.3 770.7,1483.9 768.4,1483.0 C767.0,1482.5 765.8,1479.1 765.8,1479.1 C765.8,1479.1 760.8,1481.0 759.4,1483.0 C757.7,1485.4 757.0,1488.9 756.9,1491.9 C756.8,1493.3 758.5,1494.5 758.9,1495.9 C759.5,1497.9 759.7,1500.3 760.2,1502.3 C760.6,1503.9 760.8,1505.9 761.5,1507.4 C762.1,1508.7 763.8,1509.8 764.0,1511.2 C764.2,1512.5 762.8,1513.8 762.7,1515.1 C762.6,1517.2 763.4,1519.4 763.4,1521.5 C763.4,1523.9 763.1,1526.7 762.7,1529.1 C762.4,1530.6 761.2,1533.5 761.2,1533.5 L548.7,1549.9 C548.7,1549.9 546.6,1538.9 544.8,1534.0 C543.3,1529.7 539.6,1525.6 538.4,1521.2 C537.7,1518.7 538.9,1513.0 538.9,1513.0 C538.9,1513.0 541.1,1511.3 542.3,1511.5 C545.3,1511.9 548.2,1514.5 551.2,1514.8 C554.1,1515.1 560.2,1513.5 560.2,1513.5 C560.2,1513.5 562.4,1508.4 562.7,1505.9 C562.9,1504.2 561.8,1502.4 561.5,1500.7 C561.2,1498.7 560.0,1496.2 561.0,1494.5 C562.6,1491.7 565.9,1489.7 568.7,1488.1 C571.7,1486.4 575.6,1485.4 578.9,1484.3 C581.7,1483.4 585.9,1483.9 587.9,1481.7 C590.2,1479.2 589.5,1474.7 590.4,1471.4 C591.1,1468.9 591.4,1465.8 593.0,1463.8 C595.2,1461.1 599.0,1459.4 601.9,1457.4 C606.0,1454.5 611.2,1452.0 614.8,1448.4 C619.6,1443.7 623.6,1437.2 627.6,1431.8 C630.9,1427.3 633.7,1421.5 637.8,1417.7 C639.7,1415.9 643.0,1415.8 645.5,1415.1 C648.7,1414.2 655.7,1412.5 655.7,1412.5 C655.7,1412.5 645.5,1407.0 644.2,1402.3 C641.0,1390.4 643.3,1376.2 642.4,1363.9 C642.1,1360.3 640.4,1352.9 640.4,1352.9 L640.4,1352.9Z" fill="#e57859" stroke="#857d7d" stroke-width="1.2" stroke-linejoin="round"/>
<path d="M697.1,1987.1 C697.1,1987.1 699.8,1989.5 701.0,1990.7 C702.5,1992.1 704.3,1993.6 705.5,1995.2 C706.8,1996.9 707.9,1999.0 708.7,2001.0 C709.5,2003.0 710.6,2007.4 710.6,2007.4 C710.6,2007.4 708.5,2005.9 707.4,2005.5 C706.6,2005.2 704.8,2005.5 704.8,2005.5 C704.8,2005.5 703.7,2008.0 703.8,2009.3 C703.9,2010.5 704.5,2012.0 705.5,2012.5 C707.1,2013.3 711.2,2013.1 711.2,2013.1 C711.2,2013.1 711.3,2018.0 711.9,2020.2 C712.2,2021.2 713.8,2022.7 713.8,2022.7 L716.3,2022.1 C716.3,2022.1 718.9,2025.2 720.2,2026.6 C722.2,2028.7 724.7,2030.8 726.6,2033.0 C727.8,2034.3 728.6,2036.3 729.8,2037.5 C731.8,2039.5 734.6,2041.4 736.8,2043.2 C739.3,2045.2 742.0,2047.6 744.5,2049.6 C746.9,2051.5 749.6,2053.7 752.2,2055.4 C754.1,2056.6 756.4,2057.9 758.6,2058.6 C760.2,2059.1 762.2,2058.6 763.7,2059.2 C765.5,2059.9 767.0,2061.7 768.8,2062.4 C770.7,2063.2 773.1,2063.7 775.2,2064.0 C777.6,2064.3 780.4,2064.5 782.9,2064.4 C786.2,2064.3 793.2,2063.5 793.2,2063.5 C793.2,2063.5 792.9,2065.5 792.5,2066.3 C791.6,2068.0 790.1,2069.7 789.3,2071.4 C788.7,2072.8 788.0,2075.9 788.0,2075.9 C788.0,2075.9 784.5,2074.9 782.9,2075.2 C781.9,2075.4 781.4,2077.1 780.4,2077.2 C778.7,2077.4 776.9,2075.7 775.2,2075.9 C773.8,2076.1 772.8,2078.0 771.4,2078.4 C770.2,2078.7 768.8,2077.4 767.6,2077.8 C766.5,2078.2 766.1,2079.9 765.0,2080.4 C763.5,2081.0 761.5,2081.0 759.9,2081.0 C758.3,2081.0 756.3,2081.0 754.8,2080.4 C753.3,2079.8 752.4,2077.8 750.9,2077.2 C749.0,2076.5 746.6,2076.5 744.5,2076.5 C742.0,2076.5 739.3,2077.3 736.8,2077.2 C734.3,2077.1 731.6,2076.0 729.1,2075.9 C726.7,2075.8 723.9,2076.3 721.5,2076.5 C719.0,2076.7 716.2,2076.4 713.8,2077.2 C712.1,2077.7 710.8,2079.5 709.3,2080.4 C708.4,2080.9 706.1,2081.6 706.1,2081.6 L696.5,1989.7 L697.1,1987.1Z" fill="#e57859" stroke="#857d7d" stroke-width="1.2" stroke-linejoin="round"/>
<path d="M802.8,2069.5 C802.8,2069.5 805.7,2068.0 807.2,2067.6 C809.2,2067.0 811.5,2066.6 813.6,2066.3 C816.0,2066.0 818.8,2065.5 821.3,2065.6 C822.6,2065.7 825.2,2066.9 825.2,2066.9 C825.2,2066.9 824.6,2068.5 823.9,2068.8 C822.0,2069.6 819.5,2069.6 817.5,2070.1 C815.4,2070.6 813.2,2071.4 811.1,2072.0 C809.5,2072.5 807.7,2073.1 806.0,2073.3 C805.1,2073.4 803.4,2072.7 803.4,2072.7 L802.8,2069.5Z" fill="#e57859" stroke="#857d7d" stroke-width="1.0" stroke-linejoin="round"/>
<path d="M638.1,769.4" fill="none" stroke="#857d7d" stroke-width="1.2" stroke-linejoin="round" stroke-linecap="round"/>
<path d="M686.8,869.7 L685.0,886.4 L695.7,890.2 C695.7,890.2 697.7,897.3 697.0,900.5 C696.4,903.1 693.2,904.6 691.9,906.9 C690.3,909.6 687.4,912.7 688.0,915.8 C688.8,919.8 693.6,922.6 695.7,926.1 C697.3,928.8 697.4,932.8 699.6,935.0 C701.1,936.5 704.3,935.1 706.0,936.3 C707.5,937.4 707.4,940.0 708.5,941.4 C709.9,943.2 713.6,946.1 713.6,946.1 C713.6,946.1 715.4,941.1 717.5,940.2 C720.5,938.9 724.5,940.5 727.7,940.2 C728.6,940.1 730.3,938.9 730.3,938.9" fill="none" stroke="#857d7d" stroke-width="1.2" stroke-linejoin="round" stroke-linecap="round"/>
<path d="M577.9,945.3 L598.4,941.4 C598.4,941.4 601.3,947.9 603.5,950.4 C605.8,953.0 608.9,955.8 612.2,956.9 C615.3,958.0 622.4,956.9 622.4,956.9 L626.3,965.9 C626.3,965.9 632.3,964.8 635.2,964.6 C639.3,964.4 644.0,965.6 648.0,964.6 C650.1,964.1 651.0,960.5 653.2,960.2 C659.7,959.3 673.6,961.2 673.6,961.2 C673.6,961.2 674.1,967.9 674.9,971.0 C675.8,974.8 676.3,979.5 678.8,982.5 C681.2,985.3 686.0,985.5 689.0,987.6 C692.6,990.1 696.5,993.2 699.3,996.6 C702.3,1000.3 704.5,1005.3 706.9,1009.4 C709.4,1013.5 712.2,1018.1 714.6,1022.2 C716.7,1025.8 721.0,1033.7 721.0,1033.7" fill="none" stroke="#857d7d" stroke-width="1.2" stroke-linejoin="round" stroke-linecap="round"/>
<path d="M721.0,1033.7 C721.0,1033.7 729.4,1033.3 732.5,1031.2 C735.2,1029.3 736.9,1025.4 737.7,1022.2 C738.7,1018.2 737.7,1009.4 737.7,1009.4" fill="none" stroke="#857d7d" stroke-width="1.2" stroke-linejoin="round" stroke-linecap="round"/>
<path d="M561.0,972.3 C561.0,972.3 565.6,972.4 567.4,973.5 C571.6,976.2 575.8,979.9 578.9,983.8 C582.5,988.2 586.2,993.7 587.9,999.1 C589.1,1003.0 588.7,1007.9 587.9,1011.9 C587.4,1014.3 584.3,1015.9 584.0,1018.3 C583.8,1020.1 586.6,1023.5 586.6,1023.5 C586.6,1023.5 595.4,1021.3 599.4,1022.2 C604.8,1023.4 610.1,1026.9 614.8,1029.9 C619.2,1032.7 623.5,1036.8 627.6,1040.1 C631.7,1043.4 636.5,1046.9 640.4,1050.4 C644.7,1054.3 649.5,1058.7 653.2,1063.2 C655.9,1066.5 658.9,1070.6 660.3,1074.7 C661.8,1079.0 660.9,1084.4 662.1,1088.8 C663.1,1092.7 665.0,1096.9 667.2,1100.3 C668.8,1102.7 671.8,1104.4 673.6,1106.7 C674.7,1108.1 676.2,1111.8 676.2,1111.8" fill="none" stroke="#857d7d" stroke-width="1.2" stroke-linejoin="round" stroke-linecap="round"/>
<path d="M721.0,1033.7 C721.0,1033.7 718.7,1043.4 717.2,1047.8 C715.0,1054.4 711.2,1061.5 709.5,1068.3 C708.3,1073.1 708.3,1078.7 708.2,1083.6 C708.1,1092.2 709.0,1110.5 709.0,1110.5" fill="none" stroke="#857d7d" stroke-width="1.2" stroke-linejoin="round" stroke-linecap="round"/>
<path d="M654.4,1113.1 C654.4,1113.1 669.2,1111.5 676.2,1111.8 C680.4,1112.0 684.8,1114.3 689.0,1114.4 C690.8,1114.4 692.3,1112.5 694.1,1112.3 C695.8,1112.1 697.7,1113.5 699.3,1113.1 C700.4,1112.8 700.7,1110.8 701.8,1110.5 C704.0,1109.9 706.7,1110.2 709.0,1110.5 C713.3,1111.0 718.3,1111.4 722.3,1113.1 C725.2,1114.4 728.2,1116.9 730.0,1119.5 C731.2,1121.2 731.3,1125.9 731.3,1125.9 L742.8,1125.9" fill="none" stroke="#857d7d" stroke-width="1.2" stroke-linejoin="round" stroke-linecap="round"/>
<path d="M555.9,1150.2 L568.7,1147.7 C568.7,1147.7 569.0,1138.4 571.2,1134.9 C573.4,1131.4 578.1,1129.5 581.5,1127.2 C583.5,1125.8 587.9,1123.3 587.9,1123.3 C587.9,1123.3 594.0,1125.9 595.5,1128.5 C597.1,1131.3 596.8,1138.7 596.8,1138.7 C596.8,1138.7 604.3,1138.0 607.1,1136.1 C611.2,1133.3 613.0,1127.0 617.3,1124.6 C620.9,1122.6 626.1,1122.5 630.1,1123.3 C634.6,1124.2 638.5,1128.6 642.9,1129.7 C645.3,1130.3 648.2,1128.0 650.6,1128.5 C652.6,1128.9 655.7,1132.3 655.7,1132.3" fill="none" stroke="#857d7d" stroke-width="1.2" stroke-linejoin="round" stroke-linecap="round"/>
<path d="M654.4,1113.1 C654.4,1113.1 654.7,1126.2 655.7,1132.3 C656.7,1138.2 659.8,1144.3 660.8,1150.2 C661.9,1156.7 660.7,1164.3 662.1,1170.7 C663.2,1175.9 665.6,1181.6 668.5,1186.1 C671.5,1190.8 678.2,1193.7 680.1,1198.9 C681.8,1203.5 678.8,1214.3 678.8,1214.3 L678.8,1212.8 C678.8,1212.8 684.3,1224.9 686.5,1230.7 C688.4,1235.5 691.2,1240.9 691.6,1246.1 C692.6,1258.3 691.1,1284.5 691.1,1284.5" fill="none" stroke="#857d7d" stroke-width="1.2" stroke-linejoin="round" stroke-linecap="round"/>
<path d="M742.8,1125.9 C742.8,1125.9 744.4,1132.0 744.1,1134.9 C743.5,1140.7 741.5,1147.1 740.2,1152.8 C739.3,1156.9 737.4,1161.4 737.2,1165.6 C737.0,1172.2 739.0,1186.1 739.0,1186.1 L740.7,1238.4 L742.8,1281.9" fill="none" stroke="#857d7d" stroke-width="1.2" stroke-linejoin="round" stroke-linecap="round"/>
<path d="M842.7,1038.8 C842.7,1038.8 852.6,1049.2 852.9,1055.5 C853.4,1064.8 848.0,1074.7 845.2,1083.6 C843.1,1090.3 838.0,1097.1 837.5,1104.1 C837.1,1109.3 840.4,1114.8 842.7,1119.5 C845.3,1124.8 850.5,1129.5 852.9,1134.9 C854.6,1138.7 856.1,1143.6 855.5,1147.7 C854.8,1152.2 849.1,1160.5 849.1,1160.5 L814.5,1211.2" fill="none" stroke="#857d7d" stroke-width="1.2" stroke-linejoin="round" stroke-linecap="round"/>
<path d="M814.5,1211.2 L801.7,1211.2 L801.7,1237.1 L740.7,1238.4" fill="none" stroke="#857d7d" stroke-width="1.2" stroke-linejoin="round" stroke-linecap="round"/>
<path d="M814.5,1211.2 L859.3,1211.2 L895.1,1174.1 L904.0,1176.7 C904.0,1176.7 908.0,1170.3 910.4,1167.7 C911.4,1166.6 914.3,1165.2 914.3,1165.2" fill="none" stroke="#857d7d" stroke-width="1.2" stroke-linejoin="round" stroke-linecap="round"/>
<path d="M965.0,940.5 C965.0,940.5 963.3,943.5 962.4,944.9 C960.7,947.4 957.7,949.6 956.8,952.5 C955.2,958.1 956.1,964.9 954.8,970.5 C953.8,974.8 952.1,979.6 949.6,983.3 C947.0,987.1 941.8,989.6 939.4,993.5 C937.2,997.2 936.0,1002.0 935.5,1006.3 C935.1,1009.6 937.2,1013.3 936.8,1016.6 C936.3,1020.8 933.8,1025.2 933.0,1029.4 C932.8,1030.6 933.6,1032.0 933.5,1033.3 C933.3,1035.8 932.2,1041.0 932.2,1041.0" fill="none" stroke="#857d7d" stroke-width="1.2" stroke-linejoin="round" stroke-linecap="round"/>
<path d="M1072.5,916.2 C1072.5,916.2 1072.9,921.9 1073.8,924.4 C1075.0,927.9 1077.7,931.2 1079.0,934.6 C1080.2,937.8 1080.2,941.8 1081.5,944.9 C1082.3,946.9 1085.4,950.5 1085.4,950.5" fill="none" stroke="#857d7d" stroke-width="1.2" stroke-linejoin="round" stroke-linecap="round"/>
<path d="M634.7,1289.6 L691.1,1284.5 L742.8,1281.9" fill="none" stroke="#857d7d" stroke-width="1.2" stroke-linejoin="round" stroke-linecap="round"/>
<path d="M640.4,1352.9 L638.3,1297.3 L634.7,1289.6" fill="none" stroke="#857d7d" stroke-width="1.2" stroke-linejoin="round" stroke-linecap="round"/>
<path d="M801.7,1211.5 C801.7,1211.5 801.5,1228.9 801.7,1237.1 C802.0,1249.8 803.0,1276.8 803.0,1276.8 L805.5,1353.6 L808.1,1420.2" fill="none" stroke="#857d7d" stroke-width="1.2" stroke-linejoin="round" stroke-linecap="round"/>
<path d="M801.7,1211.5 L814.5,1211.5" fill="none" stroke="#857d7d" stroke-width="1.2" stroke-linejoin="round" stroke-linecap="round"/>
<path d="M698.5,1705.6 L574.3,1718.4" fill="none" stroke="#857d7d" stroke-width="1.2" stroke-linejoin="round" stroke-linecap="round"/>
<path d="M830.9,709.7 L830.9,780.1" fill="none" stroke="#857d7d" stroke-width="1.2" stroke-linejoin="round" stroke-linecap="round"/>
<path d="M903.3,1924.1 C903.3,1924.1 905.6,1925.1 906.6,1925.8 C907.5,1926.4 908.2,1927.4 909.1,1927.9 C910.4,1928.5 911.9,1929.0 913.3,1929.1 C914.6,1929.2 916.2,1929.1 917.4,1928.7 C918.9,1928.2 920.1,1926.5 921.6,1926.2 C923.2,1925.9 925.0,1926.7 926.6,1927.0 C928.2,1927.3 930.0,1927.9 931.6,1927.9 C933.0,1927.9 934.5,1927.3 935.8,1927.0 C936.9,1926.8 939.1,1926.2 939.1,1926.2 L940.7,1928.3 C940.7,1928.3 939.8,1930.1 939.1,1930.8 C938.4,1931.5 937.1,1931.6 936.6,1932.4 C936.1,1933.2 936.6,1935.4 936.6,1935.4 C936.6,1935.4 934.2,1935.6 933.3,1936.2 C932.4,1936.8 932.2,1938.2 931.6,1939.1 C931.1,1939.9 930.5,1940.9 929.9,1941.6 C929.2,1942.5 928.2,1943.3 927.4,1944.1 C926.6,1944.9 925.6,1945.7 924.9,1946.6 C924.3,1947.4 924.2,1948.9 923.3,1949.5 C922.4,1950.1 921.0,1950.0 919.9,1949.9 C918.8,1949.8 917.7,1948.8 916.6,1948.7 C915.5,1948.6 914.4,1949.4 913.3,1949.5 C912.5,1949.6 911.6,1949.0 910.8,1949.1 C910.4,1949.1 910.0,1949.9 910.0,1949.9 C910.0,1949.9 912.0,1952.0 912.4,1953.3 C912.6,1954.0 912.1,1954.9 911.6,1955.3 C910.9,1955.8 909.9,1955.5 909.1,1955.8 C908.2,1956.2 907.3,1956.7 906.6,1957.4 C905.9,1958.1 905.6,1959.2 905.0,1959.9 C904.4,1960.5 902.9,1961.6 902.9,1961.6 C902.9,1961.6 901.8,1960.5 901.6,1959.9 C901.3,1958.9 901.8,1957.5 901.2,1956.6 C900.6,1955.7 899.3,1955.2 898.3,1954.9 C897.3,1954.6 896.0,1954.9 895.0,1954.5 C893.8,1954.0 892.5,1953.0 891.6,1952.0 C891.1,1951.5 890.8,1949.9 890.8,1949.9 C890.8,1949.9 893.0,1949.1 894.1,1949.1 C895.5,1949.1 896.9,1949.8 898.3,1949.9 C899.9,1950.0 901.7,1949.8 903.3,1949.5 C904.1,1949.4 905.2,1949.3 905.8,1948.7 C906.5,1948.0 906.6,1946.7 907.0,1945.8 C907.4,1945.0 908.3,1943.3 908.3,1943.3 C908.3,1943.3 910.1,1943.6 910.8,1943.3 C912.0,1942.8 913.1,1941.7 914.1,1940.8 C915.0,1940.0 915.9,1938.9 916.6,1937.9 C917.0,1937.3 917.4,1935.8 917.4,1935.8 C917.4,1935.8 915.8,1934.0 914.9,1933.3 C913.9,1932.6 912.7,1932.0 911.6,1931.6 C910.6,1931.2 909.2,1931.3 908.3,1930.8 C907.6,1930.4 907.2,1929.3 906.6,1928.7 C905.9,1928.0 904.7,1927.4 904.1,1926.6 C903.6,1925.9 903.3,1924.1 903.3,1924.1Z" fill="#e57859" stroke="#857d7d" stroke-width="1.0" stroke-linejoin="round"/>
<path d="M903.3,1939.1 C903.3,1939.1 905.4,1937.7 906.6,1937.4 C908.2,1937.1 910.0,1937.2 911.6,1937.3 C912.7,1937.4 914.9,1937.9 914.9,1937.9 C914.9,1937.9 913.9,1938.8 913.3,1939.1 C912.0,1939.7 910.4,1940.0 909.1,1940.4 C908.0,1940.8 906.9,1941.4 905.8,1941.6 C905.1,1941.7 903.7,1941.2 903.7,1941.2 L903.3,1939.1Z" fill="#e57859" stroke="#857d7d" stroke-width="1.0" stroke-linejoin="round"/>
<path d="M948.2,1921.6 C948.2,1921.6 950.0,1920.8 950.7,1921.2 C951.8,1921.7 952.1,1923.6 953.2,1924.1 C954.4,1924.7 956.1,1924.6 957.4,1924.5 C958.8,1924.4 960.3,1923.4 961.6,1923.7 C962.6,1923.9 963.4,1924.9 964.0,1925.8 C964.5,1926.6 964.9,1928.7 964.9,1928.7 C964.9,1928.7 967.1,1927.6 968.2,1927.5 C969.5,1927.4 971.1,1927.8 972.4,1927.9 C973.7,1928.0 975.3,1927.7 976.5,1928.3 C977.4,1928.7 978.0,1929.9 978.2,1930.8 C978.4,1931.8 977.8,1934.1 977.8,1934.1 C977.8,1934.1 975.8,1934.7 974.9,1934.9 C974.1,1935.1 972.4,1935.4 972.4,1935.4 C972.4,1935.4 975.9,1935.9 977.4,1936.6 C978.4,1937.0 979.9,1938.7 979.9,1938.7 C979.9,1938.7 979.6,1940.3 979.0,1940.8 C978.1,1941.5 976.8,1941.7 975.7,1942.0 C974.4,1942.4 972.8,1942.6 971.5,1942.9 C970.2,1943.2 968.6,1943.4 967.4,1944.1 C966.6,1944.6 966.4,1945.9 965.7,1946.6 C965.0,1947.3 964.2,1948.2 963.2,1948.3 C962.1,1948.4 961.0,1947.6 959.9,1947.4 C958.6,1947.1 957.0,1946.9 955.7,1946.6 C954.4,1946.3 952.9,1946.2 951.6,1945.8 C950.4,1945.4 949.1,1944.9 948.2,1944.1 C947.5,1943.5 946.8,1942.5 946.6,1941.6 C946.5,1940.8 947.4,1939.1 947.4,1939.1 C947.4,1939.1 945.6,1937.5 944.9,1936.6 C944.3,1935.9 943.2,1934.1 943.2,1934.1 C943.2,1934.1 944.1,1932.5 944.9,1932.4 C946.0,1932.2 947.1,1933.4 948.2,1933.3 C948.9,1933.2 949.9,1932.0 949.9,1932.0 C949.9,1932.0 948.4,1930.4 947.4,1930.0 C946.7,1929.7 944.9,1930.0 944.9,1930.0 C944.9,1930.0 945.9,1928.4 946.6,1927.9 C947.5,1927.3 948.9,1927.2 949.9,1926.6 C950.5,1926.2 951.6,1925.0 951.6,1925.0 C951.6,1925.0 949.8,1924.0 949.1,1923.3 C948.7,1922.9 948.2,1921.6 948.2,1921.6Z" fill="#e57859" stroke="#857d7d" stroke-width="1.0" stroke-linejoin="round"/>
<path d="M942.4,1939.9 C942.4,1939.9 944.5,1940.7 944.9,1941.6 C945.4,1942.5 944.5,1943.9 944.9,1944.9 C945.3,1945.9 946.5,1946.7 947.4,1947.4 C948.4,1948.2 949.6,1948.8 950.7,1949.5 C951.8,1950.2 953.2,1950.7 954.1,1951.6 C954.8,1952.3 955.5,1953.5 955.7,1954.5 C955.8,1955.1 954.9,1956.2 954.9,1956.2 C954.9,1956.2 953.2,1955.4 952.4,1954.9 C951.6,1954.4 950.7,1953.7 949.9,1953.3 C948.9,1952.8 947.7,1952.2 946.6,1952.0 C945.8,1951.8 944.8,1951.6 944.1,1952.0 C943.3,1952.4 942.6,1953.3 942.4,1954.1 C942.2,1954.9 942.8,1955.8 943.2,1956.6 C943.6,1957.5 944.1,1958.6 944.9,1959.1 C945.8,1959.7 947.1,1960.0 948.2,1959.9 C949.0,1959.8 950.3,1958.7 950.3,1958.7 C950.3,1958.7 950.4,1960.2 949.9,1960.7 C949.1,1961.5 947.8,1962.2 946.6,1962.4 C945.5,1962.6 944.3,1962.3 943.2,1962.0 C942.1,1961.7 941.0,1961.0 939.9,1960.7 C938.9,1960.4 936.6,1959.9 936.6,1959.9 C936.6,1959.9 935.7,1961.6 935.8,1962.4 C936.0,1963.8 937.4,1966.6 937.4,1966.6 L935.8,1967.4 C935.8,1967.4 934.0,1965.8 933.3,1964.9 C932.4,1963.9 931.4,1962.8 930.8,1961.6 C930.2,1960.3 929.8,1958.8 929.5,1957.4 C929.2,1955.8 928.9,1954.0 929.1,1952.4 C929.3,1951.0 930.0,1949.5 930.8,1948.3 C931.4,1947.3 932.4,1946.5 933.3,1945.8 C934.5,1944.9 936.1,1944.2 937.4,1943.3 C938.5,1942.6 939.6,1941.5 940.7,1940.8 C941.2,1940.5 942.4,1939.9 942.4,1939.9Z" fill="#e57859" stroke="#857d7d" stroke-width="1.0" stroke-linejoin="round"/>
<path d="M910.0,1920.4 C910.0,1920.4 911.7,1919.8 912.4,1920.0 C913.5,1920.3 914.4,1921.4 915.4,1922.0 C916.2,1922.5 917.9,1923.3 917.9,1923.3 L917.4,1925.8 C917.4,1925.8 916.0,1926.4 915.4,1926.2 C914.5,1925.8 914.1,1924.7 913.3,1924.1 C912.6,1923.6 911.4,1923.6 910.8,1922.9 C910.2,1922.3 910.0,1920.4 910.0,1920.4Z" fill="#fff" stroke="#857d7d" stroke-width="0.9" stroke-linejoin="round"/>
<path d="M923.3,1920.8 C923.3,1920.8 926.1,1919.9 927.4,1920.0 C928.8,1920.1 930.2,1920.9 931.6,1921.2 C932.5,1921.4 934.5,1921.6 934.5,1921.6 L934.5,1923.7 C934.5,1923.7 932.5,1924.4 931.6,1924.3 C930.5,1924.2 929.4,1923.2 928.3,1922.9 C927.1,1922.6 925.6,1923.0 924.5,1922.5 C923.9,1922.2 923.3,1920.8 923.3,1920.8Z" fill="#fff" stroke="#857d7d" stroke-width="0.9" stroke-linejoin="round"/>
<path d="M962.4,1930.0 L964.0,1929.8 L967.0,1935.4 L965.3,1936.2 L962.4,1930.0Z" fill="#fff" stroke="none" stroke-width="0" stroke-linejoin="round"/>
<circle cx="889.6" cy="1911.5" r="1.0" fill="#fff" stroke="#857d7d" stroke-width="0.9"/>
<circle cx="896.2" cy="1914.0" r="1.0" fill="#fff" stroke="#857d7d" stroke-width="0.9"/>
<circle cx="904.1" cy="1920.1" r="1.2" fill="#fff" stroke="#857d7d" stroke-width="0.9"/>
<circle cx="885.8" cy="1937.9" r="1.3" fill="#fff" stroke="#857d7d" stroke-width="0.9"/>
<circle cx="885.4" cy="1943.3" r="1.6" fill="#fff" stroke="#857d7d" stroke-width="0.9"/>
<circle cx="889.6" cy="1944.1" r="1.5" fill="#fff" stroke="#857d7d" stroke-width="0.9"/>
<circle cx="892.9" cy="1943.3" r="1.5" fill="#fff" stroke="#857d7d" stroke-width="0.9"/>
<circle cx="895.0" cy="1946.2" r="1.4" fill="#fff" stroke="#857d7d" stroke-width="0.9"/>
<circle cx="926.2" cy="1965.7" r="1.0" fill="#fff" stroke="#857d7d" stroke-width="0.9"/>
<circle cx="942.4" cy="1969.5" r="1.8" fill="#fff" stroke="#857d7d" stroke-width="0.9"/>
<circle cx="959.5" cy="1953.9" r="1.6" fill="#fff" stroke="#857d7d" stroke-width="0.9"/>
<circle cx="940.3" cy="1982.0" r="1.4" fill="#fff" stroke="#857d7d" stroke-width="0.9"/>
<circle cx="926.6" cy="1956.6" r="1.6" fill="#fff" stroke="#857d7d" stroke-width="0.9"/>
<clipPath id="antclip"><path d="M980.3,2297.7 L891.5,2080.0 A328,328 0 0 1 1089.7,2080.4 Z"/></clipPath>
<path d="M980.3,2297.7 L891.5,2080.0 A328,328 0 0 1 1089.7,2080.4 Z" fill="#ebe8e8"/>
<g clip-path="url(#antclip)">
<path d="M969.9,2090.3 C969.9,2090.3 966.9,2093.4 965.3,2094.6 C964.0,2095.6 962.0,2095.9 960.7,2096.9 C959.0,2098.2 957.4,2100.0 956.0,2101.5 C954.5,2103.2 952.8,2105.1 951.4,2106.9 C949.9,2108.8 948.2,2111.0 946.8,2113.0 C945.8,2114.4 944.7,2116.1 943.8,2117.6 C943.0,2119.0 942.1,2120.7 941.5,2122.2 C940.9,2123.6 940.3,2125.3 939.9,2126.8 C939.5,2128.2 938.8,2129.9 939.1,2131.4 C939.4,2133.0 940.4,2134.8 941.5,2136.0 C942.5,2137.1 944.1,2137.6 945.3,2138.4 C946.8,2139.4 948.6,2140.2 949.9,2141.4 C951.1,2142.5 952.3,2143.9 953.0,2145.3 C953.8,2147.1 953.9,2149.5 954.5,2151.4 C955.1,2153.2 956.1,2155.0 956.8,2156.8 C957.6,2159.0 958.2,2161.6 959.1,2163.7 C959.9,2165.5 961.4,2167.3 962.2,2169.1 C962.7,2170.2 963.1,2171.7 963.0,2172.9 C962.9,2174.5 961.7,2176.0 961.4,2177.5 C961.2,2178.7 961.9,2180.2 961.4,2181.4 C960.8,2182.8 959.3,2183.9 958.4,2185.2 C957.6,2186.4 956.7,2187.8 956.0,2189.1 C955.5,2190.0 955.2,2191.3 954.5,2192.1 C953.5,2193.3 951.9,2194.2 950.7,2195.2 C949.7,2196.1 948.6,2197.3 947.6,2198.3 C946.4,2199.5 945.2,2201.2 943.8,2202.1 C942.7,2202.8 941.2,2203.3 939.9,2203.3 C939.1,2203.3 938.0,2202.9 937.6,2202.1 C934.5,2195.4 929.2,2180.6 929.2,2180.6 C929.2,2180.6 932.4,2179.8 933.8,2179.1 C935.4,2178.3 937.1,2177.2 938.4,2176.0 C939.8,2174.7 941.3,2173.1 942.2,2171.4 C943.0,2169.8 943.5,2167.8 943.4,2166.0 C943.3,2164.2 942.2,2162.3 941.5,2160.6 C940.8,2159.1 939.9,2157.4 939.1,2156.0 C938.2,2154.5 937.0,2152.9 936.1,2151.4 C935.3,2150.2 933.9,2149.0 933.8,2147.6 C933.7,2146.1 934.9,2144.5 935.3,2143.0 C935.8,2141.3 936.8,2139.4 936.8,2137.6 C936.8,2136.1 935.7,2134.5 935.3,2133.0 C934.9,2131.6 934.4,2129.9 934.5,2128.4 C934.7,2126.4 935.4,2124.1 936.1,2122.2 C936.7,2120.4 937.6,2118.5 938.4,2116.8 C939.3,2115.0 940.4,2113.2 941.5,2111.5 C942.6,2109.7 944.0,2107.8 945.3,2106.1 C946.7,2104.3 948.3,2102.3 949.9,2100.7 C951.5,2099.1 953.5,2097.5 955.3,2096.1 C957.0,2094.8 958.9,2093.4 960.7,2092.3 C962.1,2091.5 963.7,2090.6 965.3,2090.3 C966.7,2090.0 969.9,2090.3 969.9,2090.3Z" fill="#e57859" stroke="#7d6f6c" stroke-width="1.3" stroke-linejoin="round"/>
<path d="M953.0,2235.2 C953.0,2235.2 956.7,2236.2 958.4,2236.7 C960.1,2237.2 962.1,2237.5 963.7,2238.2 C965.3,2238.9 966.8,2240.4 968.3,2241.3 C969.8,2242.2 971.6,2242.9 973.0,2243.9 C973.6,2244.4 974.5,2245.9 974.5,2245.9 C974.5,2245.9 975.1,2243.1 976.0,2242.1 C977.2,2240.8 979.0,2239.8 980.6,2239.0 C982.5,2238.1 984.7,2237.2 986.8,2236.7 C988.7,2236.2 991.1,2236.7 992.9,2235.9 C994.7,2235.1 995.8,2233.0 997.5,2232.1 C999.3,2231.2 1001.7,2230.9 1003.7,2230.5 C1006.2,2230.0 1009.0,2229.6 1011.4,2229.0 C1012.9,2228.6 1014.8,2228.5 1016.0,2227.5 C1017.1,2226.6 1017.3,2224.6 1018.3,2223.6 C1019.1,2222.8 1021.4,2222.1 1021.4,2222.1 C1021.4,2222.1 1018.8,2220.3 1017.5,2219.8 C1016.3,2219.3 1014.8,2219.5 1013.7,2219.0 C1012.6,2218.5 1011.4,2217.7 1010.6,2216.7 C1009.6,2215.4 1008.6,2213.7 1008.3,2212.1 C1008.1,2211.1 1008.5,2209.8 1009.1,2209.0 C1010.0,2207.8 1011.6,2206.8 1012.9,2206.0 C1014.3,2205.1 1016.0,2204.3 1017.5,2203.7 C1019.4,2202.9 1021.7,2202.2 1023.7,2201.4 C1025.7,2200.7 1027.8,2199.6 1029.8,2199.0 C1031.6,2198.5 1035.6,2197.8 1035.6,2197.8 L980.3,2297.7 L953.0,2235.2Z" fill="#e57859" stroke="#7d6f6c" stroke-width="1.2" stroke-linejoin="round"/>
<path d="M923.8,2144.0 C925.0,2143.1 926.7,2142.4 928.1,2142.7 C929.4,2143.0 930.4,2144.5 931.2,2145.6 C932.1,2146.8 932.7,2148.5 933.3,2149.9 C934.2,2151.8 934.8,2154.1 935.8,2156.0 C936.6,2157.6 938.0,2159.0 938.8,2160.6 C939.7,2162.3 940.7,2164.2 941.0,2166.0 C941.3,2167.7 941.1,2169.8 940.4,2171.4 C939.7,2172.8 938.2,2174.0 936.8,2174.8 C935.5,2175.6 933.7,2176.2 932.2,2176.3 C931.4,2176.3 930.4,2175.8 929.9,2175.2 C929.1,2174.2 928.7,2172.7 928.4,2171.4 C927.9,2169.4 927.7,2167.2 927.2,2165.2 C926.7,2163.0 925.9,2160.5 925.3,2158.3 C924.8,2156.4 924.3,2154.1 923.8,2152.2 C923.3,2150.6 922.2,2148.8 922.2,2147.1 C922.2,2146.0 922.9,2144.7 923.8,2144.0Z" fill="#fff" stroke="#857d7d" stroke-width="1.0" stroke-linejoin="round"/>
<path d="M986.8,2206.7 C988.2,2206.0 989.9,2205.0 991.4,2205.2 C992.6,2205.3 994.0,2206.4 994.5,2207.5 C995.3,2209.1 994.9,2211.2 995.2,2212.9 C995.4,2214.4 996.1,2216.0 996.0,2217.5 C995.9,2219.0 995.3,2220.8 994.5,2222.1 C993.6,2223.6 992.1,2224.9 990.6,2225.9 C989.0,2226.9 987.0,2227.6 985.2,2228.2 C983.5,2228.8 981.6,2229.7 979.9,2229.5 C978.9,2229.4 977.9,2228.4 977.6,2227.5 C977.3,2226.3 977.7,2224.7 978.3,2223.6 C979.2,2221.9 981.2,2220.6 982.2,2219.0 C983.2,2217.4 984.1,2215.4 984.5,2213.6 C984.8,2212.2 984.0,2210.4 984.5,2209.0 C984.8,2208.0 985.9,2207.2 986.8,2206.7Z" fill="#fff" stroke="#857d7d" stroke-width="1.0" stroke-linejoin="round"/>
<path d="M953.7,2213.2 C953.7,2213.2 955.6,2214.3 955.7,2215.2 C955.9,2216.7 955.2,2218.4 954.5,2219.8 C953.8,2221.2 951.4,2223.6 951.4,2223.6 C951.4,2223.6 949.9,2221.7 949.9,2220.6 C949.9,2219.0 950.7,2217.3 951.4,2215.9 C951.9,2214.9 953.7,2213.2 953.7,2213.2Z" fill="#fff" stroke="#857d7d" stroke-width="1.0" stroke-linejoin="round"/>
<path d="M967.6,2220.6 C967.6,2220.6 969.7,2222.4 969.9,2223.6 C970.2,2225.1 969.9,2226.9 969.1,2228.2 C968.5,2229.2 967.2,2230.0 966.0,2230.1 C964.7,2230.2 963.2,2229.8 962.2,2229.0 C961.3,2228.3 960.7,2225.9 960.7,2225.9 C960.7,2225.9 963.5,2226.0 964.5,2225.2 C965.9,2224.1 967.6,2220.6 967.6,2220.6Z" fill="#fff" stroke="#857d7d" stroke-width="1.0" stroke-linejoin="round"/>
<ellipse cx="929.2" cy="2129.9" rx="2.2" ry="3.8" fill="#ebe8e8" stroke="#6f6b6b" stroke-width="1.1" transform="rotate(20 929.2 2129.9)"/>
<ellipse cx="931.8" cy="2123.4" rx="1.6" ry="2.6" fill="#ebe8e8" stroke="#6f6b6b" stroke-width="1.1" transform="rotate(30 931.8 2123.4)"/>
<ellipse cx="936.4" cy="2114.5" rx="1.6" ry="2.4" fill="#ebe8e8" stroke="#6f6b6b" stroke-width="1.1" transform="rotate(30 936.4 2114.5)"/>
<ellipse cx="941.0" cy="2105.0" rx="1.8" ry="3.4" fill="#ebe8e8" stroke="#6f6b6b" stroke-width="1.1" transform="rotate(35 941.0 2105.0)"/>
<ellipse cx="953.0" cy="2084.1" rx="6" ry="1.0" fill="#ebe8e8" stroke="#6f6b6b" stroke-width="1.1" transform="rotate(-22 953.0 2084.1)"/>
<ellipse cx="942.2" cy="2091.8" rx="1.2" ry="1.2" fill="#ebe8e8" stroke="#6f6b6b" stroke-width="1.1" transform="rotate(0 942.2 2091.8)"/>
<ellipse cx="971.4" cy="2074.6" rx="1.0" ry="1.0" fill="#ebe8e8" stroke="#6f6b6b" stroke-width="1.1" transform="rotate(0 971.4 2074.6)"/>
<ellipse cx="1008.3" cy="2069.7" rx="2.4" ry="0.9" fill="#ebe8e8" stroke="#6f6b6b" stroke-width="1.1" transform="rotate(0 1008.3 2069.7)"/>
<ellipse cx="949.9" cy="2116.1" rx="2.4" ry="0.8" fill="#ebe8e8" stroke="#6f6b6b" stroke-width="1.1" transform="rotate(-30 949.9 2116.1)"/>
<ellipse cx="945.3" cy="2096.1" rx="2.0" ry="1.0" fill="#ebe8e8" stroke="#6f6b6b" stroke-width="1.1" transform="rotate(-40 945.3 2096.1)"/>
<ellipse cx="962.2" cy="2094.6" rx="3.2" ry="1.6" fill="#ebe8e8" stroke="#6f6b6b" stroke-width="1.1" transform="rotate(-45 962.2 2094.6)"/>
</g>
<path d="M980.3,2297.7 L891.5,2080.0 A328,328 0 0 1 1089.7,2080.4 Z" fill="none" stroke="#8a8686" stroke-width="1.6" stroke-linejoin="miter"/>
<clipPath id="cpLand"><path d="M638.1,769.4 C638.1,769.4 640.8,754.1 641.9,746.8 C642.4,743.1 644.4,738.8 643.2,735.3 C642.3,732.7 636.3,730.2 636.3,730.2 C636.3,730.2 640.5,726.2 641.9,723.8 C643.2,721.6 642.9,718.2 644.5,716.1 C645.6,714.6 648.5,714.9 649.6,713.5 C651.5,711.1 651.1,706.5 653.5,704.6 C657.3,701.6 663.6,702.1 667.6,699.4 C669.5,698.1 670.0,695.2 670.6,693.0 C671.3,690.4 671.7,684.6 671.7,684.6 C671.7,684.6 677.9,684.7 680.4,685.9 C685.3,688.3 689.2,694.1 694.4,695.6 C700.3,697.3 707.5,695.5 713.6,695.6 C720.8,695.7 730.2,692.4 736.2,696.4 C743.5,701.2 750.0,719.9 750.0,719.9 C750.0,719.9 757.5,698.8 763.6,690.5 C765.2,688.3 772.0,690.0 772.0,690.0 L776.4,699.4 L779.7,690.0 C779.7,690.0 798.3,687.3 807.1,687.4 C809.0,687.4 810.8,689.2 812.2,690.5 C818.5,696.4 825.0,703.5 830.9,709.7 C832.8,711.7 834.9,713.9 836.6,716.1 C840.9,721.7 844.4,729.0 849.4,734.0 C854.4,739.0 862.1,742.0 867.3,746.8 C869.7,749.0 870.4,753.2 872.8,755.4 C877.2,759.4 882.8,763.1 888.2,765.6 C893.6,768.1 900.7,768.2 906.1,770.7 C911.5,773.2 916.3,778.2 921.5,781.0 C926.2,783.5 932.0,785.2 936.8,787.4 C941.8,789.7 947.2,792.8 952.2,795.1 C958.7,798.1 966.1,801.3 972.7,804.0 C979.2,806.6 986.9,808.6 993.2,811.7 C997.7,813.9 1002.4,817.3 1006.0,820.7 C1009.0,823.5 1011.8,827.3 1013.6,830.9 C1014.5,832.7 1015.0,835.3 1014.4,837.3 C1013.7,839.7 1011.1,841.5 1009.8,843.7 C1008.4,846.1 1007.2,848.9 1006.0,851.4 C1004.7,854.3 1003.8,857.8 1002.1,860.4 C999.7,864.0 995.3,866.8 993.2,870.6 C991.1,874.3 990.7,879.3 989.3,883.4 C988.2,886.7 987.5,890.8 985.5,893.6 C984.5,895.0 981.5,894.3 980.4,895.7 C977.3,899.5 972.7,909.0 972.7,909.0 C972.7,909.0 979.6,908.0 982.9,908.2 C987.9,908.5 993.4,909.4 998.3,910.3 C1003.3,911.3 1008.7,913.0 1013.6,914.1 C1017.7,915.0 1022.4,915.8 1026.5,916.7 C1029.8,917.4 1033.6,918.1 1036.7,919.3 C1038.9,920.2 1043.1,923.1 1043.1,923.1 C1043.1,923.1 1046.2,919.4 1048.2,918.5 C1049.4,918.0 1051.0,918.6 1052.1,919.3 C1054.0,920.4 1055.1,923.1 1057.2,923.9 C1058.7,924.5 1061.0,924.1 1062.3,923.1 C1064.4,921.6 1065.2,918.2 1067.4,916.7 C1068.8,915.8 1072.5,916.2 1072.5,916.2 L1073.3,920.5 C1073.3,920.5 1079.8,920.1 1082.8,919.3 C1084.6,918.8 1086.8,918.2 1087.9,916.7 C1089.5,914.6 1088.9,911.0 1090.5,909.0 C1092.4,906.7 1095.6,905.2 1098.2,903.9 C1100.5,902.7 1103.5,902.5 1105.8,901.3 C1108.4,900.0 1111.2,898.1 1113.5,896.2 C1116.2,894.0 1119.2,891.3 1121.2,888.5 C1123.3,885.5 1125.1,881.7 1126.3,878.3 C1127.4,875.1 1128.3,871.4 1128.4,868.0 C1128.7,861.5 1127.6,847.6 1127.6,847.6 C1127.6,847.6 1130.0,845.5 1131.4,845.5 C1132.8,845.5 1135.3,847.6 1135.3,847.6 C1135.3,847.6 1137.7,845.3 1139.1,845.0 C1142.3,844.4 1146.2,844.3 1149.4,845.0 C1151.7,845.5 1154.7,846.7 1155.8,848.8 C1157.8,852.9 1157.1,858.5 1158.3,862.9 C1159.2,866.3 1161.8,869.7 1162.2,873.2 C1162.9,879.7 1162.8,887.2 1161.7,893.6 C1161.1,897.2 1159.1,900.9 1157.1,903.9 C1155.1,906.8 1152.1,909.4 1149.4,911.6 C1147.1,913.5 1144.4,915.6 1141.7,916.7 C1140.2,917.3 1138.0,915.8 1136.6,916.7 C1134.4,918.1 1133.5,921.5 1131.4,923.1 C1130.1,924.1 1127.6,923.4 1126.3,924.4 C1122.6,927.2 1119.9,932.0 1116.1,934.6 C1113.2,936.6 1108.9,936.9 1105.8,938.5 C1103.2,939.8 1100.5,941.8 1098.2,943.6 C1095.6,945.5 1093.3,948.5 1090.5,950.0 C1089.1,950.8 1086.7,949.5 1085.4,950.5 C1083.6,951.8 1082.0,954.2 1081.5,956.4 C1081.1,958.0 1082.8,961.5 1082.8,961.5 L1079.7,962.3 L1079.0,957.7 C1079.0,957.7 1074.4,961.0 1072.5,962.8 C1069.1,965.9 1065.2,969.4 1062.3,973.0 C1057.8,978.5 1054.1,985.6 1049.5,991.0 C1045.0,996.3 1039.0,1001.3 1034.1,1006.3 C1029.3,1011.2 1024.1,1016.9 1019.3,1021.8 C1016.5,1024.7 1012.5,1027.3 1010.3,1030.7 C1008.4,1033.6 1008.1,1037.9 1006.5,1041.0 C1004.4,1044.9 1000.2,1048.3 998.8,1052.5 C998.0,1054.9 1000.4,1057.7 1000.1,1060.2 C999.5,1064.8 997.6,1069.8 996.2,1074.3 C994.7,1078.8 992.1,1083.6 991.1,1088.3 C990.7,1090.4 992.3,1092.7 991.9,1094.8 C991.4,1097.4 989.3,1099.9 988.5,1102.4 C987.4,1105.6 986.3,1109.3 986.0,1112.7 C985.5,1118.4 986.3,1124.9 986.0,1130.6 C985.9,1133.1 984.3,1135.8 984.7,1138.3 C985.2,1141.4 988.2,1144.1 988.5,1147.2 C988.7,1149.0 987.3,1151.1 986.0,1152.4 C983.5,1154.9 978.7,1155.7 977.0,1158.8 C974.7,1163.2 974.7,1169.1 974.4,1174.1 C974.2,1177.4 975.1,1181.1 975.7,1184.4 C976.0,1186.1 976.2,1188.0 977.0,1189.5 C977.9,1191.3 980.1,1192.7 980.8,1194.6 C981.2,1195.8 980.7,1197.3 980.3,1198.5 C979.5,1200.7 977.7,1202.7 977.0,1204.9 C976.4,1206.9 976.6,1209.2 976.5,1211.3 C976.5,1212.8 975.9,1214.7 976.7,1215.9 C978.4,1218.3 981.3,1220.3 983.9,1221.8 C988.6,1224.6 994.7,1226.5 999.3,1229.4 C1003.7,1232.2 1008.3,1236.1 1012.1,1239.7 C1015.7,1243.1 1019.4,1247.3 1022.3,1251.2 C1023.1,1252.3 1024.1,1253.9 1023.6,1255.1 C1022.7,1257.6 1019.9,1259.3 1018.5,1261.5 C1017.0,1263.8 1015.2,1266.4 1014.6,1269.1 C1014.1,1271.5 1014.1,1274.6 1015.1,1276.8 C1016.6,1280.1 1019.5,1283.3 1022.3,1285.8 C1024.4,1287.7 1027.3,1289.4 1030.0,1290.1 C1032.4,1290.7 1037.7,1289.6 1037.7,1289.6 C1037.7,1289.6 1038.7,1298.3 1038.2,1302.4 C1037.8,1305.8 1036.4,1309.5 1035.1,1312.7 C1033.7,1316.1 1031.9,1319.8 1030.0,1322.9 C1028.2,1325.9 1025.3,1328.8 1023.6,1331.9 C1022.4,1334.2 1022.6,1337.5 1021.0,1339.6 C1018.7,1342.6 1014.5,1344.3 1012.1,1347.2 C1009.9,1349.7 1008.3,1353.2 1006.9,1356.2 C1005.8,1358.6 1005.9,1361.8 1004.4,1363.9 C1002.5,1366.5 999.3,1368.5 996.7,1370.3 C992.8,1373.0 988.2,1375.9 983.9,1378.0 C979.1,1380.4 973.6,1382.7 968.5,1384.4 C962.1,1386.6 954.6,1388.4 948.0,1390.0 C941.5,1391.6 934.2,1393.2 927.6,1394.6 C921.1,1396.0 913.7,1397.6 907.1,1398.5 C901.4,1399.3 894.9,1399.3 889.1,1399.7 C883.4,1400.1 876.9,1401.0 871.2,1401.0 C867.1,1401.0 862.4,1400.7 858.4,1399.7 C855.7,1399.0 853.2,1397.0 850.7,1395.9 C847.9,1394.7 841.8,1392.6 841.8,1392.6 C841.8,1392.6 842.4,1399.2 843.0,1402.3 C843.6,1405.6 844.1,1409.5 845.6,1412.5 C846.6,1414.6 849.3,1415.8 850.7,1417.7 C851.8,1419.2 853.1,1421.0 853.3,1422.8 C853.8,1428.1 852.8,1439.4 852.8,1439.4 L847.7,1439.9 C847.7,1439.9 847.0,1449.3 845.6,1453.5 C845.0,1455.2 842.3,1455.7 841.8,1457.4 C841.2,1459.8 841.2,1463.0 842.5,1465.0 C843.9,1467.1 847.8,1466.9 849.4,1468.9 C850.7,1470.5 851.1,1473.2 850.7,1475.3 C850.2,1477.6 848.5,1480.0 846.9,1481.7 C845.2,1483.5 840.5,1486.3 840.5,1486.3 L840.6,1485.4 L831.6,1486.6 L832.4,1485.5 C832.4,1485.5 830.2,1488.7 828.6,1489.4 C825.1,1490.9 820.8,1491.4 817.1,1491.9 C812.2,1492.6 806.6,1493.8 801.7,1493.2 C796.5,1492.6 791.1,1490.0 786.3,1488.1 C782.9,1486.7 779.6,1484.0 776.1,1483.0 C773.7,1482.3 770.7,1483.9 768.4,1483.0 C767.0,1482.5 765.8,1479.1 765.8,1479.1 C765.8,1479.1 760.8,1481.0 759.4,1483.0 C757.7,1485.4 757.0,1488.9 756.9,1491.9 C756.8,1493.3 758.5,1494.5 758.9,1495.9 C759.5,1497.9 759.7,1500.3 760.2,1502.3 C760.6,1503.9 760.8,1505.9 761.5,1507.4 C762.1,1508.7 763.8,1509.8 764.0,1511.2 C764.2,1512.5 762.8,1513.8 762.7,1515.1 C762.6,1517.2 763.4,1519.4 763.4,1521.5 C763.4,1523.9 763.1,1526.7 762.7,1529.1 C762.4,1530.6 761.0,1532.0 761.2,1533.5 C761.4,1534.9 762.9,1535.9 764.0,1536.8 C765.5,1538.0 767.3,1539.3 769.1,1540.0 C771.5,1540.9 774.4,1541.2 776.8,1541.9 C778.1,1542.2 780.7,1543.2 780.7,1543.2 C780.7,1543.2 778.3,1544.8 777.5,1545.8 C777.0,1546.5 776.8,1548.3 776.8,1548.3 C776.8,1548.3 780.2,1549.6 781.9,1549.6 C784.0,1549.6 786.3,1548.7 788.3,1548.3 C790.0,1547.9 792.0,1547.9 793.5,1547.1 C794.4,1546.6 795.2,1545.5 795.4,1544.5 C795.6,1543.7 794.8,1541.9 794.8,1541.9 C794.8,1541.9 791.3,1541.3 789.6,1541.3 C788.4,1541.3 785.8,1541.7 785.8,1541.7 L785.5,1540.4 C785.5,1540.4 788.3,1540.1 789.6,1540.0 C791.3,1539.9 793.3,1540.2 794.8,1539.6 C795.9,1539.1 796.4,1537.6 797.3,1536.8 C798.4,1535.9 799.8,1534.7 801.2,1534.3 C802.4,1534.0 804.0,1534.1 805.0,1534.9 C806.3,1535.9 807.0,1537.9 807.6,1539.4 C808.4,1541.4 809.1,1543.7 809.5,1545.8 C809.9,1547.8 810.0,1550.2 809.9,1552.2 C809.8,1554.3 809.4,1556.6 808.8,1558.6 C808.3,1560.3 807.6,1562.5 806.3,1563.7 C805.0,1564.9 802.8,1565.0 801.2,1565.6 C799.2,1566.3 796.9,1567.3 794.8,1567.6 C793.5,1567.8 790.9,1566.9 790.9,1566.9 C790.9,1566.9 789.9,1563.9 789.6,1562.4 C789.3,1561.2 789.4,1559.8 789.0,1558.6 C788.6,1557.5 788.1,1556.1 787.1,1555.4 C785.7,1554.4 783.7,1553.6 781.9,1553.5 C780.2,1553.4 778.4,1554.2 776.8,1554.8 C775.1,1555.4 773.2,1556.3 771.7,1557.3 C770.0,1558.4 768.1,1559.8 766.6,1561.2 C765.6,1562.1 764.0,1564.4 764.0,1564.4 C764.0,1564.4 764.8,1565.4 765.3,1565.6 C767.3,1566.2 769.7,1566.2 771.7,1566.9 C773.4,1567.5 775.0,1569.0 776.8,1569.5 C778.8,1570.1 781.2,1570.0 783.2,1570.4 C784.7,1570.7 787.7,1571.4 787.7,1571.4 C787.7,1571.4 786.7,1573.9 785.8,1574.6 C784.0,1576.0 781.4,1576.7 779.4,1577.8 C777.3,1578.9 774.9,1580.2 773.0,1581.6 C771.6,1582.6 769.8,1583.7 768.9,1585.2 C767.6,1587.4 767.7,1590.7 766.3,1592.9 C764.4,1595.8 760.3,1597.6 758.6,1600.6 C757.4,1602.8 756.8,1605.9 757.4,1608.3 C758.2,1611.5 761.8,1614.0 762.5,1617.2 C763.1,1620.0 761.2,1623.3 761.2,1626.2 C761.2,1629.5 763.4,1633.3 762.5,1636.5 C761.6,1639.6 758.5,1642.0 756.1,1644.1 C754.7,1645.3 752.1,1645.2 751.0,1646.7 C749.8,1648.4 749.7,1653.1 749.7,1653.1 L756.1,1654.4 L753.5,1660.8 C753.5,1660.8 744.7,1660.1 740.7,1660.8 C737.3,1661.4 733.6,1663.0 730.5,1664.6 C728.7,1665.5 727.2,1667.4 725.4,1668.5 C723.0,1669.9 720.1,1670.9 717.7,1672.3 C715.1,1673.8 711.6,1674.9 710.0,1677.4 C708.1,1680.2 708.7,1684.6 707.4,1687.7 C706.2,1690.4 703.6,1692.8 702.3,1695.4 C700.7,1698.5 698.9,1702.1 698.5,1705.6 C698.1,1708.9 698.7,1712.7 699.7,1715.8 C700.8,1719.3 702.5,1723.3 704.9,1726.1 C706.8,1728.4 710.2,1729.4 712.5,1731.2 C715.1,1733.1 718.0,1735.3 720.2,1737.6 C722.5,1740.1 723.5,1744.7 726.6,1746.1 C730.7,1748.0 736.2,1747.3 740.7,1747.1 C743.2,1747.0 746.0,1744.6 748.4,1745.3 C751.5,1746.2 754.2,1749.1 756.1,1751.7 C757.6,1753.8 758.4,1756.8 758.6,1759.4 C758.8,1762.9 758.7,1767.0 757.4,1770.2 C756.5,1772.4 752.2,1775.4 752.2,1775.4 C752.2,1775.4 755.4,1776.6 756.1,1777.9 C757.2,1779.7 757.4,1784.3 757.4,1784.3 C757.4,1784.3 753.5,1784.5 752.2,1785.6 C750.8,1786.8 750.9,1789.3 749.7,1790.7 C747.6,1793.1 744.0,1794.6 742.0,1797.1 C740.9,1798.5 741.9,1801.1 740.7,1802.3 C738.0,1805.0 733.6,1806.4 730.5,1808.7 C727.0,1811.3 723.0,1814.2 720.2,1817.6 C719.1,1818.9 719.9,1821.3 719.0,1822.7 C716.6,1826.7 712.3,1830.2 710.0,1834.3 C708.5,1836.9 708.4,1840.4 707.4,1843.2 C706.8,1844.9 704.9,1848.3 704.9,1848.3 L708.7,1848.3 C708.7,1848.3 709.5,1858.0 708.7,1862.4 C708.2,1865.1 706.5,1867.8 704.9,1870.1 C702.8,1873.2 697.2,1879.1 697.2,1879.1 C697.2,1879.1 691.4,1878.2 689.5,1876.5 C687.5,1874.7 685.7,1868.8 685.7,1868.8 L680.5,1874.0 C680.5,1874.0 686.2,1873.7 688.2,1875.2 C690.0,1876.5 690.8,1881.6 690.8,1881.6 C690.8,1881.6 686.3,1884.0 684.4,1885.5 C681.7,1887.7 678.4,1890.2 676.7,1893.2 C675.0,1896.1 674.7,1900.1 674.1,1903.4 C673.5,1906.6 673.9,1910.5 672.9,1913.6 C672.2,1915.9 670.5,1918.2 669.0,1920.1 C667.2,1922.4 662.6,1926.5 662.6,1926.5 L671.6,1920.1 C671.6,1920.1 675.8,1931.4 678.0,1936.7 C678.7,1938.4 680.5,1940.0 680.5,1941.8 C680.5,1943.3 678.0,1945.7 678.0,1945.7 C678.0,1945.7 682.7,1948.8 684.4,1950.8 C687.3,1954.2 689.6,1958.7 692.1,1962.3 C694.1,1965.2 696.9,1968.1 698.5,1971.3 C699.2,1972.8 699.2,1976.4 699.2,1976.4 C699.2,1976.4 696.2,1974.3 694.6,1973.8 C689.8,1972.3 684.3,1971.0 679.3,1970.0 C674.4,1969.1 668.8,1968.7 663.9,1967.9 C660.6,1967.3 653.6,1965.6 653.6,1965.6 L605.0,1971.3 C605.0,1971.3 597.9,1966.3 594.8,1963.6 C591.7,1960.9 587.0,1958.5 585.8,1954.6 C584.3,1949.9 587.8,1944.2 587.1,1939.3 C586.9,1937.6 583.5,1937.1 583.2,1935.4 C582.6,1931.7 584.8,1927.6 584.5,1923.9 C584.3,1921.3 581.9,1916.2 581.9,1916.2 C581.9,1916.2 576.6,1915.4 574.3,1916.2 C571.5,1917.1 569.1,1919.7 566.6,1921.3 C563.8,1923.0 557.6,1926.5 557.6,1926.5 C557.6,1926.5 557.1,1922.0 556.3,1920.1 C555.0,1917.0 552.5,1914.1 551.2,1911.1 C549.7,1907.5 548.2,1903.4 547.4,1899.6 C546.5,1895.2 546.9,1890.0 546.1,1885.5 C545.3,1881.3 543.2,1876.9 542.3,1872.7 C541.4,1868.8 540.5,1860.4 540.5,1860.4 C540.5,1860.4 546.7,1860.4 548.7,1858.6 C551.4,1856.1 551.6,1851.3 553.8,1848.3 C556.2,1845.0 561.0,1843.0 562.7,1839.4 C564.5,1835.7 562.8,1830.5 564.0,1826.6 C564.9,1823.8 568.4,1821.8 569.1,1818.9 C569.7,1816.5 568.9,1813.5 567.9,1811.2 C566.4,1807.7 562.3,1804.8 561.5,1801.0 C560.5,1796.2 561.3,1790.3 562.7,1785.6 C563.4,1783.1 566.8,1781.6 567.9,1779.2 C568.9,1776.9 567.8,1773.6 569.1,1771.5 C570.1,1769.9 574.3,1769.0 574.3,1769.0 C574.3,1769.0 571.4,1763.0 570.4,1760.0 C570.1,1759.0 570.0,1757.7 570.4,1756.8 C572.1,1753.3 576.2,1750.4 576.8,1746.6 C577.6,1741.7 576.0,1735.9 574.3,1731.2 C573.4,1728.7 569.1,1724.8 569.1,1724.8 L574.3,1718.4 C574.3,1718.4 570.9,1712.5 570.4,1709.4 C570.0,1707.0 570.5,1704.0 571.7,1701.8 C573.1,1699.3 576.6,1697.9 578.1,1695.4 C579.6,1692.8 581.4,1689.3 580.7,1686.4 C580.0,1683.6 576.5,1681.8 574.3,1680.0 C572.0,1678.1 569.4,1676.0 566.6,1674.9 C563.9,1673.9 557.6,1673.6 557.6,1673.6 L557.6,1669.7 C557.6,1669.7 563.6,1667.6 566.6,1667.2 C569.8,1666.8 573.7,1668.3 576.8,1667.2 C578.7,1666.5 580.0,1664.0 580.7,1662.1 C581.7,1659.4 581.9,1653.1 581.9,1653.1 C581.9,1653.1 578.5,1651.4 576.8,1651.3 C572.3,1651.1 562.7,1652.3 562.7,1652.3 C562.7,1652.3 560.4,1648.7 560.2,1646.7 C560.0,1644.2 561.9,1641.5 561.5,1639.0 C561.0,1635.9 557.6,1633.2 557.6,1630.1 C557.6,1627.0 561.5,1621.1 561.5,1621.1 L552.5,1613.4 C552.5,1613.4 555.9,1607.3 555.1,1604.4 C554.1,1600.8 549.5,1598.7 547.4,1595.5 C544.9,1591.7 541.8,1587.2 541.0,1582.7 C540.4,1579.4 544.1,1575.7 543.5,1572.4 C543.1,1570.1 539.1,1569.5 538.4,1567.3 C537.7,1564.9 539.7,1559.6 539.7,1559.6 L547.4,1558.3 C547.4,1558.3 549.2,1552.6 548.7,1549.9 C546.4,1537.9 538.9,1513.0 538.9,1513.0 C538.9,1513.0 537.7,1518.7 538.4,1521.2 C539.6,1525.6 543.3,1529.7 544.8,1534.0 C546.6,1538.9 548.7,1549.9 548.7,1549.9 C548.7,1549.9 542.3,1524.7 538.9,1513.0 C538.0,1509.8 535.8,1506.6 535.3,1503.3 C534.8,1500.0 535.5,1496.3 535.9,1493.0 C536.5,1488.9 538.4,1480.2 538.4,1480.2 L532.8,1477.8 C532.8,1477.8 537.0,1476.9 537.9,1475.3 C539.3,1472.8 539.6,1469.2 539.2,1466.3 C538.8,1463.6 535.9,1461.3 535.4,1458.6 C535.1,1457.0 536.6,1453.5 536.6,1453.5 L543.0,1452.2 C543.0,1452.2 544.5,1442.7 544.3,1438.2 C544.1,1434.4 541.5,1430.4 541.8,1426.6 C542.0,1424.6 544.0,1422.8 545.6,1421.5 C548.6,1419.0 553.2,1417.8 555.9,1415.1 C557.8,1413.2 560.1,1410.1 559.7,1407.4 C559.2,1403.9 554.5,1401.8 553.3,1398.5 C552.0,1395.0 553.1,1390.5 552.0,1386.9 C551.0,1383.4 548.0,1380.2 546.9,1376.7 C545.9,1373.6 546.2,1369.7 545.6,1366.5 C544.6,1361.5 542.3,1356.2 541.8,1351.1 C541.4,1347.0 543.4,1342.4 543.0,1338.3 C542.8,1335.7 540.0,1333.2 540.0,1330.6 C540.0,1327.2 541.2,1323.3 543.0,1320.4 C544.7,1317.7 548.8,1316.6 550.7,1314.0 C552.2,1311.9 551.5,1308.1 553.3,1306.3 C554.8,1304.8 558.2,1306.5 559.7,1305.0 C561.5,1303.2 562.3,1299.9 562.3,1297.3 C562.3,1293.1 560.2,1288.6 559.7,1284.5 C559.0,1279.2 560.3,1272.9 558.4,1267.9 C557.6,1265.7 552.0,1264.0 552.0,1264.0 C552.0,1264.0 557.3,1262.3 558.4,1260.2 C561.2,1254.5 561.9,1247.2 563.5,1241.0 C564.8,1236.1 566.3,1230.6 567.4,1225.6 C568.8,1219.5 570.9,1212.8 571.2,1206.6 C571.7,1197.2 569.9,1177.1 569.9,1177.1 L562.3,1179.7 C562.3,1179.7 561.6,1173.5 561.0,1170.7 C559.6,1164.1 558.2,1156.5 555.9,1150.2 C553.7,1144.2 546.9,1132.3 546.9,1132.3 L550.7,1127.2 C550.7,1127.2 545.7,1126.3 544.3,1124.6 C540.6,1120.3 536.7,1114.8 535.4,1109.3 C534.1,1103.7 534.7,1096.8 536.6,1091.3 C537.7,1088.0 543.3,1086.9 544.3,1083.6 C546.7,1075.7 546.9,1058.0 546.9,1058.0 L553.3,1056.8 C553.3,1056.8 555.0,1048.9 554.6,1045.2 C553.2,1032.8 547.7,1006.8 547.7,1006.8 C547.7,1006.8 554.9,1004.6 555.9,1001.7 C558.6,993.5 556.9,983.3 558.4,974.8 C558.6,973.7 560.4,973.3 561.0,972.3 C566.6,963.4 577.6,944.1 577.6,944.1 L577.9,945.3 C577.9,945.3 581.0,923.7 586.9,915.8 C590.2,911.3 603.5,910.7 603.5,910.7 C603.5,910.7 603.6,904.4 602.3,901.8 C600.6,898.4 596.5,896.1 594.6,892.8 C593.3,890.6 592.4,887.6 592.8,885.1 C593.7,879.9 598.7,874.9 598.4,869.7 C597.8,859.5 591.8,849.0 590.2,839.0 C589.9,837.2 591.6,835.3 592.8,833.9 C593.9,832.7 597.1,831.3 597.1,831.3 C597.1,831.3 593.5,826.1 592.0,823.6 C590.8,821.6 588.2,819.5 588.7,817.2 C589.6,812.6 592.7,807.8 595.9,804.4 C600.1,799.9 606.1,796.3 611.2,792.9 C615.9,789.7 622.3,787.7 626.6,784.0 C631.1,780.1 638.1,769.4 638.1,769.4 L638.1,769.4Z"/></clipPath>
<clipPath id="cpOrange"><path d="M713.6,695.6 C713.6,695.6 730.2,692.4 736.2,696.4 C743.5,701.2 750.0,719.9 750.0,719.9 C750.0,719.9 757.5,698.8 763.6,690.5 C765.2,688.3 772.0,690.0 772.0,690.0 L776.4,699.4 L779.7,690.0 C779.7,690.0 798.3,687.3 807.1,687.4 C809.0,687.4 810.8,689.2 812.2,690.5 C818.5,696.4 830.9,709.7 830.9,709.7 L830.9,780.1 L830.2,786.5 L790.5,842.1 C790.5,842.1 788.2,845.1 786.6,845.4 C784.5,845.8 782.3,844.0 780.2,844.1 C775.2,844.4 769.8,846.1 764.9,846.7 C762.5,847.0 757.2,846.7 757.2,846.7 L749.5,866.7 C749.5,866.7 745.1,866.8 743.1,867.2 C738.5,868.2 733.7,871.3 729.0,871.0 C726.0,870.8 724.2,866.3 721.3,865.9 C715.8,865.1 703.9,867.2 703.9,867.2 L702.9,874.4 L686.8,869.7 L679.1,877.9 C679.1,877.9 674.4,875.4 672.7,873.6 C670.2,871.1 668.6,867.3 666.3,864.6 C664.4,862.4 661.3,860.7 659.9,858.2 C658.9,856.4 659.4,851.8 659.4,851.8 L667.6,849.3 C667.6,849.3 668.9,844.1 668.8,841.6 C668.7,839.5 667.0,835.2 667.0,835.2 L636.8,834.4 L592.8,833.9 L597.1,831.3 C597.1,831.3 593.5,826.1 592.0,823.6 C590.8,821.6 588.2,819.5 588.7,817.2 C589.6,812.6 592.7,807.8 595.9,804.4 C600.1,799.9 606.1,796.3 611.2,792.9 C615.9,789.7 622.3,787.7 626.6,784.0 C631.1,780.1 638.1,769.4 638.1,769.4 C638.1,769.4 644.6,772.7 647.1,775.0 C651.2,778.7 654.1,784.7 658.6,787.8 C660.5,789.1 665.8,787.8 665.8,787.8 C665.8,787.8 670.7,776.8 671.4,771.2 C672.0,766.3 669.6,760.8 669.6,755.8 C669.6,754.1 671.4,750.7 671.4,750.7 C671.4,750.7 677.4,753.2 680.4,753.7 C682.6,754.0 687.3,753.2 687.3,753.2 C687.3,753.2 685.4,761.9 685.5,766.0 C685.6,769.0 686.2,772.6 688.0,775.0 C689.7,777.4 693.9,777.8 695.7,780.1 C699.0,784.3 703.4,794.7 703.4,794.7 C703.4,794.7 706.9,794.5 708.5,794.7 C712.6,795.2 717.2,795.9 721.3,796.8 C724.2,797.4 727.3,799.2 730.3,799.3 C734.8,799.4 740.1,799.0 744.4,797.5 C746.6,796.7 747.8,793.9 749.5,792.4 C752.3,790.0 757.7,788.8 758.5,785.2 C760.6,775.3 757.7,753.7 757.7,753.7 C757.7,753.7 753.3,752.8 751.5,753.7 C749.9,754.5 748.2,758.3 748.2,758.3 C748.2,758.3 747.1,755.0 745.7,754.5 C742.2,753.2 737.6,754.5 734.1,753.2 C730.8,752.0 727.2,749.7 725.2,746.8 C723.0,743.6 723.9,738.5 721.8,735.3 C720.0,732.5 715.4,731.7 713.6,728.9 C712.3,726.8 713.5,723.6 712.9,721.2 C712.2,718.3 709.7,715.3 709.8,712.3 C709.9,706.8 713.6,695.6 713.6,695.6 L713.6,695.6Z"/><path d="M830.9,780.1 C830.9,780.1 838.4,780.4 841.7,781.4 C845.2,782.5 848.9,784.4 851.9,786.5 C855.5,789.0 858.5,793.2 862.2,795.5 C866.0,797.8 871.7,797.7 875.0,800.6 C878.6,803.7 879.1,810.2 882.7,813.4 C886.8,817.0 893.6,817.9 898.0,821.1 C902.7,824.5 906.7,829.8 910.8,833.9 C913.3,836.4 915.9,839.3 918.5,841.6 C921.6,844.3 926.1,846.2 928.8,849.3 C931.9,852.9 933.2,858.6 936.4,862.1 C938.4,864.3 942.0,865.1 944.5,866.8 C947.9,869.1 951.6,871.8 954.8,874.4 C958.2,877.1 961.7,880.5 965.0,883.4 C967.9,885.9 971.0,888.7 974.0,891.1 C976.0,892.7 980.4,895.7 980.4,895.7 C980.4,895.7 975.3,904.8 972.7,909.0 C970.6,912.4 967.2,915.7 965.5,919.3 C964.3,921.9 963.8,925.3 963.7,928.2 C963.6,932.2 965.0,940.5 965.0,940.5 L860.0,940.5 L855.8,940.2 L855.0,869.7 L854.0,842.1 L790.5,842.1 L830.2,786.5 L830.9,780.1Z"/><path d="M790.5,842.1 L854.0,842.1 L855.0,869.7 L855.8,940.2 L852.9,981.2 L842.7,1038.8 L826.8,1038.8 C826.8,1038.8 827.0,1033.4 826.0,1031.2 C823.8,1026.3 821.7,1019.9 817.1,1017.1 C811.4,1013.6 803.2,1014.2 796.6,1013.2 C792.5,1012.6 787.9,1012.4 783.8,1011.9 C781.3,1011.6 778.5,1011.4 776.1,1010.7 C771.1,1009.3 765.9,1005.7 760.7,1005.5 C753.2,1005.2 737.7,1009.4 737.7,1009.4 C737.7,1009.4 741.4,1006.3 741.5,1004.3 C741.8,998.5 740.9,991.8 739.0,986.3 C737.1,980.9 731.6,976.5 730.0,971.0 C727.9,963.5 727.6,954.4 727.7,946.6 C727.7,944.0 729.6,941.4 730.3,938.9 C732.5,931.5 734.3,923.1 736.7,915.8 C738.9,909.2 741.8,901.9 744.4,895.4 C745.7,892.0 748.4,888.7 749.0,885.1 C750.0,879.3 748.3,872.5 749.5,866.7 C750.9,860.0 757.2,846.7 757.2,846.7 C757.2,846.7 762.5,847.0 764.9,846.7 C769.8,846.1 775.2,844.4 780.2,844.1 C782.3,844.0 784.5,845.8 786.6,845.4 C788.2,845.1 790.5,842.1 790.5,842.1 L790.5,842.1Z"/><path d="M932.2,1041.0 C934.7,1038.5 939.1,1038.2 942.4,1037.1 C946.5,1035.7 951.0,1034.1 955.2,1033.3 C959.2,1032.5 963.9,1032.0 968.0,1032.0 C971.7,1032.0 976.1,1032.1 979.6,1033.3 C982.4,1034.2 985.2,1036.2 987.2,1038.4 C989.0,1040.5 989.3,1044.0 991.1,1046.1 C993.1,1048.6 997.1,1049.8 998.8,1052.5 C1000.1,1054.6 1000.4,1057.7 1000.1,1060.2 C999.5,1064.8 997.6,1069.8 996.2,1074.3 C994.7,1078.8 992.1,1083.6 991.1,1088.3 C990.7,1090.4 992.3,1092.7 991.9,1094.8 C991.4,1097.4 989.3,1099.9 988.5,1102.4 C987.4,1105.6 986.3,1109.3 986.0,1112.7 C985.5,1118.4 986.3,1124.9 986.0,1130.6 C985.9,1133.1 984.3,1135.8 984.7,1138.3 C985.2,1141.4 988.2,1144.1 988.5,1147.2 C988.7,1149.0 987.3,1151.1 986.0,1152.4 C983.5,1154.9 978.7,1155.7 977.0,1158.8 C974.7,1163.2 974.7,1169.1 974.4,1174.1 C974.2,1177.4 975.1,1181.1 975.7,1184.4 C976.0,1186.1 977.0,1189.5 977.0,1189.5 C977.0,1189.5 971.8,1191.0 969.3,1190.8 C966.3,1190.6 963.3,1189.0 960.4,1188.2 C954.6,1186.6 947.9,1185.4 942.4,1183.1 C937.2,1180.9 931.9,1177.2 927.1,1174.1 C922.9,1171.4 918.0,1168.5 914.3,1165.2 C910.6,1161.9 906.8,1157.7 904.0,1153.6 C901.4,1149.8 899.7,1144.8 897.6,1140.8 C896.1,1137.9 893.0,1135.2 892.5,1131.9 C892.1,1128.9 894.8,1125.9 895.1,1122.9 C895.6,1118.0 894.1,1112.4 895.1,1107.6 C895.8,1104.4 898.0,1101.0 900.2,1098.6 C902.6,1096.0 906.2,1094.1 909.1,1092.2 C912.3,1090.0 917.0,1088.9 919.4,1085.8 C922.6,1081.6 923.9,1075.4 925.8,1070.4 C927.2,1066.8 928.7,1062.7 929.6,1058.9 C930.4,1055.7 930.4,1052.0 930.9,1048.7 C931.3,1046.2 930.4,1042.8 932.2,1041.0Z"/><path d="M559.7,1305.0 C559.7,1305.0 564.6,1305.9 566.1,1307.6 C567.8,1309.5 567.3,1313.0 568.7,1315.2 C570.3,1317.6 573.0,1319.6 575.1,1321.6 C577.9,1324.2 581.6,1326.4 584.0,1329.3 C585.4,1331.0 584.9,1334.3 586.6,1335.7 C589.3,1338.0 593.3,1339.5 596.8,1340.3 C600.8,1341.2 605.7,1339.4 609.6,1340.8 C612.3,1341.8 613.4,1345.9 616.0,1347.2 C617.8,1348.1 620.4,1346.7 622.4,1347.2 C625.1,1347.9 627.5,1350.3 630.1,1351.1 C633.3,1352.1 640.4,1352.9 640.4,1352.9 C640.4,1352.9 642.1,1360.3 642.4,1363.9 C643.3,1376.2 641.0,1390.4 644.2,1402.3 C645.5,1407.0 655.7,1412.5 655.7,1412.5 C655.7,1412.5 648.7,1414.2 645.5,1415.1 C643.0,1415.8 639.7,1415.9 637.8,1417.7 C633.7,1421.5 630.9,1427.3 627.6,1431.8 C623.6,1437.2 619.6,1443.7 614.8,1448.4 C611.2,1452.0 606.0,1454.5 601.9,1457.4 C599.0,1459.4 595.2,1461.1 593.0,1463.8 C591.4,1465.8 591.1,1468.9 590.4,1471.4 C589.5,1474.7 590.2,1479.2 587.9,1481.7 C585.9,1483.9 581.7,1483.4 578.9,1484.3 C575.6,1485.4 571.7,1486.4 568.7,1488.1 C565.9,1489.7 562.6,1491.7 561.0,1494.5 C560.0,1496.2 561.2,1498.7 561.5,1500.7 C561.8,1502.4 562.9,1504.2 562.7,1505.9 C562.4,1508.4 560.2,1513.5 560.2,1513.5 C560.2,1513.5 554.1,1515.1 551.2,1514.8 C548.2,1514.5 545.3,1511.9 542.3,1511.5 C541.1,1511.3 538.9,1513.0 538.9,1513.0 C538.9,1513.0 535.8,1506.6 535.3,1503.3 C534.8,1500.0 535.5,1496.3 535.9,1493.0 C536.5,1488.9 538.4,1480.2 538.4,1480.2 L532.8,1477.8 C532.8,1477.8 537.0,1476.9 537.9,1475.3 C539.3,1472.8 539.6,1469.2 539.2,1466.3 C538.8,1463.6 535.9,1461.3 535.4,1458.6 C535.1,1457.0 536.6,1453.5 536.6,1453.5 L543.0,1452.2 C543.0,1452.2 544.5,1442.7 544.3,1438.2 C544.1,1434.4 541.5,1430.4 541.8,1426.6 C542.0,1424.6 544.0,1422.8 545.6,1421.5 C548.6,1419.0 553.2,1417.8 555.9,1415.1 C557.8,1413.2 560.1,1410.1 559.7,1407.4 C559.2,1403.9 554.5,1401.8 553.3,1398.5 C552.0,1395.0 553.1,1390.5 552.0,1386.9 C551.0,1383.4 548.0,1380.2 546.9,1376.7 C545.9,1373.6 546.2,1369.7 545.6,1366.5 C544.6,1361.5 542.3,1356.2 541.8,1351.1 C541.4,1347.0 543.4,1342.4 543.0,1338.3 C542.8,1335.7 540.0,1333.2 540.0,1330.6 C540.0,1327.2 541.2,1323.3 543.0,1320.4 C544.7,1317.7 548.8,1316.6 550.7,1314.0 C552.2,1311.9 551.5,1308.1 553.3,1306.3 C554.8,1304.8 559.7,1305.0 559.7,1305.0 L559.7,1305.0Z"/><path d="M640.4,1352.9 C640.4,1352.9 649.3,1352.3 653.2,1353.6 C655.4,1354.3 658.3,1358.8 658.3,1358.8 C658.3,1358.8 653.5,1365.4 653.2,1369.0 C653.0,1371.4 655.2,1373.8 657.0,1375.4 C658.7,1376.9 661.4,1377.1 663.4,1378.0 C665.9,1379.1 668.4,1381.4 671.1,1381.8 C674.0,1382.2 680.1,1380.5 680.1,1380.5 C680.1,1380.5 682.0,1385.5 683.9,1386.9 C686.7,1389.0 691.2,1388.9 694.1,1390.8 C696.3,1392.3 696.9,1396.2 699.3,1397.2 C703.9,1399.1 709.7,1398.7 714.6,1399.2 C719.5,1399.7 725.1,1400.4 730.0,1400.5 C732.5,1400.6 735.2,1399.9 737.7,1399.7 C741.8,1399.4 746.4,1399.0 750.5,1399.2 C755.4,1399.4 761.0,1400.0 765.8,1401.0 C770.0,1401.9 774.6,1403.3 778.6,1404.9 C782.8,1406.6 787.4,1409.1 791.4,1411.3 C794.8,1413.2 798.3,1415.9 801.7,1417.7 C803.6,1418.7 808.1,1420.2 808.1,1420.2 L809.4,1475.3 C809.4,1475.3 814.5,1478.3 817.1,1479.1 C820.3,1480.0 824.3,1479.1 827.3,1480.4 C829.4,1481.3 832.4,1485.5 832.4,1485.5 C832.4,1485.5 830.2,1488.7 828.6,1489.4 C825.1,1490.9 820.8,1491.4 817.1,1491.9 C812.2,1492.6 806.6,1493.8 801.7,1493.2 C796.5,1492.6 791.1,1490.0 786.3,1488.1 C782.9,1486.7 779.6,1484.0 776.1,1483.0 C773.7,1482.3 770.7,1483.9 768.4,1483.0 C767.0,1482.5 765.8,1479.1 765.8,1479.1 C765.8,1479.1 760.8,1481.0 759.4,1483.0 C757.7,1485.4 757.0,1488.9 756.9,1491.9 C756.8,1493.3 758.5,1494.5 758.9,1495.9 C759.5,1497.9 759.7,1500.3 760.2,1502.3 C760.6,1503.9 760.8,1505.9 761.5,1507.4 C762.1,1508.7 763.8,1509.8 764.0,1511.2 C764.2,1512.5 762.8,1513.8 762.7,1515.1 C762.6,1517.2 763.4,1519.4 763.4,1521.5 C763.4,1523.9 763.1,1526.7 762.7,1529.1 C762.4,1530.6 761.2,1533.5 761.2,1533.5 L548.7,1549.9 C548.7,1549.9 546.6,1538.9 544.8,1534.0 C543.3,1529.7 539.6,1525.6 538.4,1521.2 C537.7,1518.7 538.9,1513.0 538.9,1513.0 C538.9,1513.0 541.1,1511.3 542.3,1511.5 C545.3,1511.9 548.2,1514.5 551.2,1514.8 C554.1,1515.1 560.2,1513.5 560.2,1513.5 C560.2,1513.5 562.4,1508.4 562.7,1505.9 C562.9,1504.2 561.8,1502.4 561.5,1500.7 C561.2,1498.7 560.0,1496.2 561.0,1494.5 C562.6,1491.7 565.9,1489.7 568.7,1488.1 C571.7,1486.4 575.6,1485.4 578.9,1484.3 C581.7,1483.4 585.9,1483.9 587.9,1481.7 C590.2,1479.2 589.5,1474.7 590.4,1471.4 C591.1,1468.9 591.4,1465.8 593.0,1463.8 C595.2,1461.1 599.0,1459.4 601.9,1457.4 C606.0,1454.5 611.2,1452.0 614.8,1448.4 C619.6,1443.7 623.6,1437.2 627.6,1431.8 C630.9,1427.3 633.7,1421.5 637.8,1417.7 C639.7,1415.9 643.0,1415.8 645.5,1415.1 C648.7,1414.2 655.7,1412.5 655.7,1412.5 C655.7,1412.5 645.5,1407.0 644.2,1402.3 C641.0,1390.4 643.3,1376.2 642.4,1363.9 C642.1,1360.3 640.4,1352.9 640.4,1352.9 L640.4,1352.9Z"/><path d="M697.1,1987.1 C697.1,1987.1 699.8,1989.5 701.0,1990.7 C702.5,1992.1 704.3,1993.6 705.5,1995.2 C706.8,1996.9 707.9,1999.0 708.7,2001.0 C709.5,2003.0 710.6,2007.4 710.6,2007.4 C710.6,2007.4 708.5,2005.9 707.4,2005.5 C706.6,2005.2 704.8,2005.5 704.8,2005.5 C704.8,2005.5 703.7,2008.0 703.8,2009.3 C703.9,2010.5 704.5,2012.0 705.5,2012.5 C707.1,2013.3 711.2,2013.1 711.2,2013.1 C711.2,2013.1 711.3,2018.0 711.9,2020.2 C712.2,2021.2 713.8,2022.7 713.8,2022.7 L716.3,2022.1 C716.3,2022.1 718.9,2025.2 720.2,2026.6 C722.2,2028.7 724.7,2030.8 726.6,2033.0 C727.8,2034.3 728.6,2036.3 729.8,2037.5 C731.8,2039.5 734.6,2041.4 736.8,2043.2 C739.3,2045.2 742.0,2047.6 744.5,2049.6 C746.9,2051.5 749.6,2053.7 752.2,2055.4 C754.1,2056.6 756.4,2057.9 758.6,2058.6 C760.2,2059.1 762.2,2058.6 763.7,2059.2 C765.5,2059.9 767.0,2061.7 768.8,2062.4 C770.7,2063.2 773.1,2063.7 775.2,2064.0 C777.6,2064.3 780.4,2064.5 782.9,2064.4 C786.2,2064.3 793.2,2063.5 793.2,2063.5 C793.2,2063.5 792.9,2065.5 792.5,2066.3 C791.6,2068.0 790.1,2069.7 789.3,2071.4 C788.7,2072.8 788.0,2075.9 788.0,2075.9 C788.0,2075.9 784.5,2074.9 782.9,2075.2 C781.9,2075.4 781.4,2077.1 780.4,2077.2 C778.7,2077.4 776.9,2075.7 775.2,2075.9 C773.8,2076.1 772.8,2078.0 771.4,2078.4 C770.2,2078.7 768.8,2077.4 767.6,2077.8 C766.5,2078.2 766.1,2079.9 765.0,2080.4 C763.5,2081.0 761.5,2081.0 759.9,2081.0 C758.3,2081.0 756.3,2081.0 754.8,2080.4 C753.3,2079.8 752.4,2077.8 750.9,2077.2 C749.0,2076.5 746.6,2076.5 744.5,2076.5 C742.0,2076.5 739.3,2077.3 736.8,2077.2 C734.3,2077.1 731.6,2076.0 729.1,2075.9 C726.7,2075.8 723.9,2076.3 721.5,2076.5 C719.0,2076.7 716.2,2076.4 713.8,2077.2 C712.1,2077.7 710.8,2079.5 709.3,2080.4 C708.4,2080.9 706.1,2081.6 706.1,2081.6 L696.5,1989.7 L697.1,1987.1Z"/></clipPath>
<g stroke="#d3d3d3" stroke-width="1.2" fill="none"><line x1="691.4" y1="735.0" x2="480.5" y2="692.4"/><line x1="686.8" y1="807.5" x2="476.2" y2="793.2"/><line x1="717.0" y1="903.5" x2="480.5" y2="917.6"/><line x1="654.2" y1="923.0" x2="480.5" y2="1024.4"/><line x1="654.4" y1="1017.8" x2="480.5" y2="1119.4"/><line x1="601.4" y1="1073.4" x2="471.5" y2="1295.1"/><line x1="699.0" y1="1162.0" x2="464.3" y2="1410.2"/><line x1="618.6" y1="1270.7" x2="462.5" y2="1541.1"/><line x1="596.8" y1="1409.7" x2="462.5" y2="1661.2"/><line x1="692.3" y1="1470.9" x2="471.5" y2="1840.4"/><line x1="654.2" y1="1621.3" x2="462.5" y2="1992.8"/><line x1="654.2" y1="1812.8" x2="462.5" y2="2107.5"/><line x1="740.9" y1="2062.8" x2="471.5" y2="2285.2"/><line x1="919.4" y1="806.1" x2="1206" y2="692.8"/><line x1="906.1" y1="888.0" x2="1206" y2="787.4"/><line x1="784.8" y1="917.6" x2="1207.8" y2="974.3"/><line x1="1130.4" y1="908.5" x2="1216.1" y2="1187.2"/><line x1="998.8" y1="985.8" x2="1213.9" y2="1304.8"/><line x1="891.5" y1="1020.5" x2="1216.1" y2="1425.6"/><line x1="946.3" y1="1110.1" x2="1216.1" y2="1541.1"/><line x1="774.0" y1="1104.9" x2="1216.1" y2="1715"/><line x1="979.2" y1="1220.0" x2="1216.1" y2="1841.6"/><line x1="904.0" y1="1285.0" x2="1216.1" y2="2031.7"/><line x1="735.1" y1="1341.6" x2="1213.9" y2="2153.9"/></g>
<g clip-path="url(#cpLand)"><g stroke="#dbd0d1" stroke-width="1.4" fill="none"><line x1="691.4" y1="735.0" x2="480.5" y2="692.4"/><line x1="686.8" y1="807.5" x2="476.2" y2="793.2"/><line x1="717.0" y1="903.5" x2="480.5" y2="917.6"/><line x1="654.2" y1="923.0" x2="480.5" y2="1024.4"/><line x1="654.4" y1="1017.8" x2="480.5" y2="1119.4"/><line x1="601.4" y1="1073.4" x2="471.5" y2="1295.1"/><line x1="699.0" y1="1162.0" x2="464.3" y2="1410.2"/><line x1="618.6" y1="1270.7" x2="462.5" y2="1541.1"/><line x1="596.8" y1="1409.7" x2="462.5" y2="1661.2"/><line x1="692.3" y1="1470.9" x2="471.5" y2="1840.4"/><line x1="654.2" y1="1621.3" x2="462.5" y2="1992.8"/><line x1="654.2" y1="1812.8" x2="462.5" y2="2107.5"/><line x1="740.9" y1="2062.8" x2="471.5" y2="2285.2"/><line x1="919.4" y1="806.1" x2="1206" y2="692.8"/><line x1="906.1" y1="888.0" x2="1206" y2="787.4"/><line x1="784.8" y1="917.6" x2="1207.8" y2="974.3"/><line x1="1130.4" y1="908.5" x2="1216.1" y2="1187.2"/><line x1="998.8" y1="985.8" x2="1213.9" y2="1304.8"/><line x1="891.5" y1="1020.5" x2="1216.1" y2="1425.6"/><line x1="946.3" y1="1110.1" x2="1216.1" y2="1541.1"/><line x1="774.0" y1="1104.9" x2="1216.1" y2="1715"/><line x1="979.2" y1="1220.0" x2="1216.1" y2="1841.6"/><line x1="904.0" y1="1285.0" x2="1216.1" y2="2031.7"/><line x1="735.1" y1="1341.6" x2="1213.9" y2="2153.9"/></g></g>
<g clip-path="url(#cpOrange)"><g stroke="#f2a890" stroke-width="1.35" fill="none"><line x1="691.4" y1="735.0" x2="480.5" y2="692.4"/><line x1="686.8" y1="807.5" x2="476.2" y2="793.2"/><line x1="717.0" y1="903.5" x2="480.5" y2="917.6"/><line x1="654.2" y1="923.0" x2="480.5" y2="1024.4"/><line x1="654.4" y1="1017.8" x2="480.5" y2="1119.4"/><line x1="601.4" y1="1073.4" x2="471.5" y2="1295.1"/><line x1="699.0" y1="1162.0" x2="464.3" y2="1410.2"/><line x1="618.6" y1="1270.7" x2="462.5" y2="1541.1"/><line x1="596.8" y1="1409.7" x2="462.5" y2="1661.2"/><line x1="692.3" y1="1470.9" x2="471.5" y2="1840.4"/><line x1="654.2" y1="1621.3" x2="462.5" y2="1992.8"/><line x1="654.2" y1="1812.8" x2="462.5" y2="2107.5"/><line x1="740.9" y1="2062.8" x2="471.5" y2="2285.2"/><line x1="919.4" y1="806.1" x2="1206" y2="692.8"/><line x1="906.1" y1="888.0" x2="1206" y2="787.4"/><line x1="784.8" y1="917.6" x2="1207.8" y2="974.3"/><line x1="1130.4" y1="908.5" x2="1216.1" y2="1187.2"/><line x1="998.8" y1="985.8" x2="1213.9" y2="1304.8"/><line x1="891.5" y1="1020.5" x2="1216.1" y2="1425.6"/><line x1="946.3" y1="1110.1" x2="1216.1" y2="1541.1"/><line x1="774.0" y1="1104.9" x2="1216.1" y2="1715"/><line x1="979.2" y1="1220.0" x2="1216.1" y2="1841.6"/><line x1="904.0" y1="1285.0" x2="1216.1" y2="2031.7"/><line x1="735.1" y1="1341.6" x2="1213.9" y2="2153.9"/></g></g>
<path d="M977.6,1214.8 L1020.4,1152.6 L1020.4,1230.0 L978.6,1218.8Z" fill="#eae8e8" stroke="#c6c4c4" stroke-width="1"/>
<rect x="1020.4" y="1152.6" width="74.9" height="77.4" fill="#ebe8e8" stroke="#8d8b8b" stroke-width="1.4"/>
<path d="M1048.9,1158.0 C1050.6,1157.8 1052.6,1158.9 1054.1,1159.8 C1056.2,1161.1 1057.8,1163.4 1059.8,1164.9 C1061.5,1166.2 1063.8,1167.2 1065.6,1168.4 C1067.1,1169.4 1068.6,1171.0 1070.2,1171.9 C1071.7,1172.7 1073.8,1172.8 1075.4,1173.6 C1077.0,1174.4 1078.9,1175.6 1080.0,1177.0 C1080.8,1178.1 1080.4,1180.0 1081.2,1181.1 C1082.0,1182.1 1083.8,1181.9 1084.6,1182.8 C1085.9,1184.2 1086.8,1186.2 1087.5,1188.0 C1088.2,1189.7 1088.7,1193.7 1088.7,1193.7 C1088.7,1193.7 1086.5,1195.8 1085.2,1196.1 C1084.4,1196.3 1082.9,1194.9 1082.9,1194.9 C1082.9,1194.9 1082.2,1199.0 1081.2,1200.7 C1080.3,1202.3 1078.6,1203.6 1077.1,1204.7 C1075.8,1205.7 1074.1,1206.7 1072.5,1207.0 C1070.7,1207.3 1068.6,1206.1 1066.8,1206.4 C1064.8,1206.7 1062.5,1207.4 1061.0,1208.7 C1059.0,1210.5 1057.9,1213.4 1056.4,1215.6 C1054.3,1218.6 1049.5,1224.9 1049.5,1224.9 C1049.5,1224.9 1044.1,1219.3 1041.4,1216.8 C1038.5,1214.1 1035.1,1211.4 1032.2,1208.7 C1030.7,1207.3 1028.3,1206.1 1027.6,1204.1 C1026.3,1200.2 1025.8,1195.4 1026.4,1191.4 C1027.0,1187.5 1029.6,1183.6 1031.0,1179.9 C1032.6,1175.5 1033.3,1170.2 1035.6,1166.1 C1036.8,1164.0 1039.4,1162.7 1041.4,1161.5 C1043.7,1160.1 1046.3,1158.4 1048.9,1158.0Z" fill="#e57859" stroke="#857d7d" stroke-width="1.2" stroke-linejoin="round"/>
<circle cx="974.6" cy="1216.8" r="3.8" fill="#fff" stroke="#857d7d" stroke-width="1"/>
<circle cx="691.4" cy="735.0" r="4.7" fill="#4b4a4a"/>
<circle cx="686.8" cy="807.5" r="4.7" fill="#4b4a4a"/>
<circle cx="717.0" cy="903.5" r="4.7" fill="#4b4a4a"/>
<circle cx="654.2" cy="923.0" r="4.7" fill="#4b4a4a"/>
<circle cx="784.8" cy="917.6" r="3.6" fill="#4b4a4a"/>
<circle cx="919.4" cy="806.1" r="4.7" fill="#4b4a4a"/>
<circle cx="906.1" cy="888.0" r="4.7" fill="#4b4a4a"/>
<circle cx="1130.4" cy="908.5" r="4.7" fill="#4b4a4a"/>
<circle cx="998.8" cy="985.8" r="4.7" fill="#4b4a4a"/>
<circle cx="891.5" cy="1020.5" r="4.7" fill="#4b4a4a"/>
<circle cx="654.4" cy="1017.8" r="4.7" fill="#4b4a4a"/>
<circle cx="601.4" cy="1073.4" r="4.7" fill="#4b4a4a"/>
<circle cx="774.0" cy="1104.9" r="4.7" fill="#4b4a4a"/>
<circle cx="699.0" cy="1162.0" r="4.7" fill="#4b4a4a"/>
<circle cx="946.3" cy="1110.1" r="4.7" fill="#4b4a4a"/>
<circle cx="979.2" cy="1220.0" r="4.7" fill="#4b4a4a"/>
<circle cx="904.0" cy="1285.0" r="4.7" fill="#4b4a4a"/>
<circle cx="618.6" cy="1270.7" r="4.7" fill="#4b4a4a"/>
<circle cx="735.1" cy="1341.6" r="4.7" fill="#4b4a4a"/>
<circle cx="596.8" cy="1409.7" r="4.7" fill="#4b4a4a"/>
<circle cx="692.3" cy="1470.9" r="4.7" fill="#4b4a4a"/>
<circle cx="654.2" cy="1621.3" r="4.7" fill="#4b4a4a"/>
<circle cx="654.2" cy="1812.8" r="4.7" fill="#4b4a4a"/>
<circle cx="740.9" cy="2062.8" r="4.7" fill="#4b4a4a"/>
<line x1="901.1" y1="1281.0" x2="906.9" y2="1289.0" stroke="#c9c9c9" stroke-width="1.3"/>
<text x="258.9" y="169.5" font-size="113.4" font-weight="bold" fill="#000" text-anchor="start" textLength="830.7" lengthAdjust="spacingAndGlyphs">LEGISLATIVAS</text>
<text x="1114.6" y="169.5" font-size="113.4" font-weight="bold" fill="#000" text-anchor="start" textLength="317.1" lengthAdjust="spacingAndGlyphs">2025:</text>
<text x="146.0" y="277.0" font-size="113.4" font-weight="bold" fill="#000" text-anchor="start" textLength="226.2" lengthAdjust="spacingAndGlyphs">LAS</text>
<text x="403.8" y="277.0" font-size="113.4" font-weight="bold" fill="#000" text-anchor="start" textLength="499.6" lengthAdjust="spacingAndGlyphs">BANCAS</text>
<text x="934.2" y="277.0" font-size="113.4" font-weight="bold" fill="#000" text-anchor="start" textLength="163.8" lengthAdjust="spacingAndGlyphs">EN</text>
<text x="1127.3" y="277.0" font-size="113.4" font-weight="bold" fill="#000" text-anchor="start" textLength="409.7" lengthAdjust="spacingAndGlyphs">JUEGO</text>
<rect x="154" y="334" width="1377" height="1.6" fill="#8a8a8a"/>
<circle cx="180.3" cy="456.5" r="14.3" fill="#e5795a" stroke="#9a6a5c" stroke-width="1"/>
<circle cx="889.5" cy="456.5" r="14.3" fill="#d29c9c" stroke="#8f7474" stroke-width="1"/>
<text x="208.5" y="469.4" font-size="38.4" font-weight="normal" fill="#555b60" text-anchor="start" textLength="541.2" lengthAdjust="spacingAndGlyphs">SENADORES/AS NACIONALES</text>
<text x="764.0" y="469.4" font-size="38.4" font-weight="bold" fill="#3f464c" text-anchor="start" textLength="47.5" lengthAdjust="spacingAndGlyphs">24</text>
<text x="919.0" y="469.4" font-size="38.4" font-weight="normal" fill="#555b60" text-anchor="start" textLength="528.0" lengthAdjust="spacingAndGlyphs">DIPUTADOS/AS NACIONALES</text>
<text x="1455.0" y="469.4" font-size="38.4" font-weight="bold" fill="#3f464c" text-anchor="start" textLength="59.0" lengthAdjust="spacingAndGlyphs">127</text>
<rect x="47.7" y="643.3" width="414.1" height="43.7" fill="#808080"/>
<text x="66.7" y="678.7" font-size="38.4" font-weight="bold" fill="#fff" text-anchor="start" textLength="137.4" lengthAdjust="spacingAndGlyphs" stroke="#fff" stroke-width="2.3" stroke-linejoin="miter" stroke-miterlimit="2.5" style="white-space:pre">JUJUY</text>
<rect x="47.7" y="690.6" width="414.1" height="44.1" fill="#e6c8ca"/>
<text x="67.8" y="724.7" font-size="29.8" fill="#4f4a4a" stroke="#4f4a4a" stroke-width="0.75" textLength="377.8" lengthAdjust="spacingAndGlyphs"><tspan font-weight="bold">3</tspan> Diputados/as Nacionales</text>
<rect x="47.7" y="751.6" width="414.1" height="44.1" fill="#808080"/>
<text x="66.7" y="788.0" font-size="38.4" font-weight="bold" fill="#fff" text-anchor="start" textLength="140.9" lengthAdjust="spacingAndGlyphs" stroke="#fff" stroke-width="2.3" stroke-linejoin="miter" stroke-miterlimit="2.5" style="white-space:pre">SALTA</text>
<rect x="48.8" y="800.0" width="413.7" height="43.0" fill="#f3bbaa"/>
<text x="67.8" y="829.8" font-size="29.8" fill="#4f4a4a" stroke="#4f4a4a" stroke-width="0.75" textLength="379.6" lengthAdjust="spacingAndGlyphs"><tspan font-weight="bold">3</tspan> Senadores/as Nacionales</text>
<rect x="50.2" y="848.4" width="414.1" height="43.0" fill="#e6c8ca"/>
<text x="67.8" y="878.2" font-size="29.8" fill="#4f4a4a" stroke="#4f4a4a" stroke-width="0.75" textLength="377.8" lengthAdjust="spacingAndGlyphs"><tspan font-weight="bold">3</tspan> Diputados/as Nacionales</text>
<rect x="47.7" y="913.3" width="414.1" height="43.7" fill="#808080"/>
<text x="66.7" y="946.9" font-size="38.4" font-weight="bold" fill="#fff" text-anchor="start" textLength="218.0" lengthAdjust="spacingAndGlyphs" stroke="#fff" stroke-width="2.3" stroke-linejoin="miter" stroke-miterlimit="2.5" style="white-space:pre">TUCUMÁN</text>
<rect x="47.7" y="960.0" width="414.1" height="43.6" fill="#e6c8ca"/>
<text x="68.9" y="989.3" font-size="29.8" fill="#4f4a4a" stroke="#4f4a4a" stroke-width="0.75" textLength="379.6" lengthAdjust="spacingAndGlyphs"><tspan font-weight="bold">4</tspan> Diputados/as Nacionales</text>
<rect x="48.8" y="1028.7" width="413.7" height="43.3" fill="#808080"/>
<text x="66.7" y="1065.1" font-size="38.4" font-weight="bold" fill="#fff" text-anchor="start" textLength="280.4" lengthAdjust="spacingAndGlyphs" stroke="#fff" stroke-width="2.3" stroke-linejoin="miter" stroke-miterlimit="2.5" style="white-space:pre">CATAMARCA</text>
<rect x="47.7" y="1074.6" width="414.1" height="43.7" fill="#e6c8ca"/>
<text x="69.6" y="1104.7" font-size="29.8" fill="#4f4a4a" stroke="#4f4a4a" stroke-width="0.75" textLength="376.7" lengthAdjust="spacingAndGlyphs"><tspan font-weight="bold">3</tspan> Diputados/as Nacionales</text>
<rect x="47.7" y="1147.0" width="414.1" height="43.4" fill="#808080"/>
<text x="66.7" y="1183.8" font-size="38.4" font-weight="bold" fill="#fff" text-anchor="start" textLength="200.5" lengthAdjust="spacingAndGlyphs" stroke="#fff" stroke-width="2.3" stroke-linejoin="miter" stroke-miterlimit="2.5" style="white-space:pre">LA RIOJA</text>
<rect x="47.7" y="1192.9" width="414.1" height="43.7" fill="#e6c8ca"/>
<text x="69.6" y="1225.9" font-size="29.8" fill="#4f4a4a" stroke="#4f4a4a" stroke-width="0.75" textLength="376.7" lengthAdjust="spacingAndGlyphs"><tspan font-weight="bold">2</tspan> Diputados/as Nacionales</text>
<rect x="48.8" y="1262.5" width="413.7" height="43.3" fill="#808080"/>
<text x="66.0" y="1300.0" font-size="38.4" font-weight="bold" fill="#fff" text-anchor="start" textLength="218.7" lengthAdjust="spacingAndGlyphs" stroke="#fff" stroke-width="2.3" stroke-linejoin="miter" stroke-miterlimit="2.5" style="white-space:pre">SAN JUAN</text>
<rect x="48.8" y="1309.0" width="413.7" height="44.2" fill="#e6c8ca"/>
<text x="66.4" y="1338.8" font-size="29.8" fill="#4f4a4a" stroke="#4f4a4a" stroke-width="0.75" textLength="377.4" lengthAdjust="spacingAndGlyphs"><tspan font-weight="bold">3</tspan> Diputados/as Nacionales</text>
<rect x="48.8" y="1381.5" width="413.7" height="43.8" fill="#808080"/>
<text x="66.0" y="1416.9" font-size="38.4" font-weight="bold" fill="#fff" text-anchor="start" textLength="197.9" lengthAdjust="spacingAndGlyphs" stroke="#fff" stroke-width="2.3" stroke-linejoin="miter" stroke-miterlimit="2.5" style="white-space:pre">SAN LUIS</text>
<rect x="48.8" y="1428.0" width="413.7" height="44.2" fill="#e6c8ca"/>
<text x="68.9" y="1456.8" font-size="29.8" fill="#4f4a4a" stroke="#4f4a4a" stroke-width="0.75" textLength="377.4" lengthAdjust="spacingAndGlyphs"><tspan font-weight="bold">3</tspan> Diputados/as Nacionales</text>
<rect x="47.7" y="1499.8" width="414.1" height="43.4" fill="#808080"/>
<text x="67.4" y="1537.0" font-size="38.4" font-weight="bold" fill="#fff" text-anchor="start" textLength="220.9" lengthAdjust="spacingAndGlyphs" stroke="#fff" stroke-width="2.3" stroke-linejoin="miter" stroke-miterlimit="2.5" style="white-space:pre">MENDOZA</text>
<rect x="47.7" y="1547.2" width="414.1" height="44.1" fill="#e6c8ca"/>
<text x="67.1" y="1580.5" font-size="29.8" fill="#4f4a4a" stroke="#4f4a4a" stroke-width="0.75" textLength="377.8" lengthAdjust="spacingAndGlyphs"><tspan font-weight="bold">5</tspan> Diputados/as Nacionales</text>
<rect x="47.7" y="1618.2" width="414.1" height="44.1" fill="#808080"/>
<text x="66.7" y="1653.5" font-size="38.4" font-weight="bold" fill="#fff" text-anchor="start" textLength="211.6" lengthAdjust="spacingAndGlyphs" stroke="#fff" stroke-width="2.3" stroke-linejoin="miter" stroke-miterlimit="2.5" style="white-space:pre">NEUQUÉN</text>
<rect x="47.0" y="1667.3" width="414.0" height="43.7" fill="#f3bbaa"/>
<text x="68.9" y="1700.6" font-size="29.8" fill="#4f4a4a" stroke="#4f4a4a" stroke-width="0.75" textLength="379.2" lengthAdjust="spacingAndGlyphs"><tspan font-weight="bold">3</tspan> Senadores/as Nacionales</text>
<rect x="48.8" y="1715.3" width="413.7" height="43.7" fill="#e6c8ca"/>
<text x="67.1" y="1747.9" font-size="29.8" fill="#4f4a4a" stroke="#4f4a4a" stroke-width="0.75" textLength="377.8" lengthAdjust="spacingAndGlyphs"><tspan font-weight="bold">3</tspan> Diputados/as Nacionales</text>
<rect x="48.8" y="1790.9" width="413.0" height="43.4" fill="#808080"/>
<text x="66.7" y="1830.9" font-size="38.4" font-weight="bold" fill="#fff" text-anchor="start" textLength="252.1" lengthAdjust="spacingAndGlyphs" stroke="#fff" stroke-width="2.3" stroke-linejoin="miter" stroke-miterlimit="2.5" style="white-space:pre">RÍO&#160;&#160;NEGRO</text>
<rect x="47.7" y="1844.7" width="414.1" height="43.3" fill="#f3bbaa"/>
<text x="66.4" y="1876.3" font-size="29.8" fill="#4f4a4a" stroke="#4f4a4a" stroke-width="0.75" textLength="379.2" lengthAdjust="spacingAndGlyphs"><tspan font-weight="bold">3</tspan> Senadores/as Nacionales</text>
<rect x="48.8" y="1892.7" width="414.1" height="43.4" fill="#e6c8ca"/>
<text x="69.6" y="1926.4" font-size="29.8" fill="#4f4a4a" stroke="#4f4a4a" stroke-width="0.75" textLength="377.1" lengthAdjust="spacingAndGlyphs"><tspan font-weight="bold">2</tspan> Diputados/as Nacionales</text>
<rect x="50.2" y="1963.0" width="411.6" height="43.4" fill="#808080"/>
<text x="66.7" y="1996.9" font-size="38.4" font-weight="bold" fill="#fff" text-anchor="start" textLength="180.4" lengthAdjust="spacingAndGlyphs" stroke="#fff" stroke-width="2.3" stroke-linejoin="miter" stroke-miterlimit="2.5" style="white-space:pre">CHUBUT</text>
<rect x="50.2" y="2010.7" width="411.6" height="43.7" fill="#e6c8ca"/>
<text x="67.1" y="2038.7" font-size="29.8" fill="#4f4a4a" stroke="#4f4a4a" stroke-width="0.75" textLength="377.4" lengthAdjust="spacingAndGlyphs"><tspan font-weight="bold">2</tspan> Diputados/as Nacionales</text>
<rect x="50.2" y="2078.8" width="411.6" height="43.8" fill="#808080"/>
<text x="66.0" y="2112.6" font-size="38.4" font-weight="bold" fill="#fff" text-anchor="start" textLength="277.5" lengthAdjust="spacingAndGlyphs" stroke="#fff" stroke-width="2.3" stroke-linejoin="miter" stroke-miterlimit="2.5" style="white-space:pre">SANTA CRUZ</text>
<rect x="50.2" y="2126.7" width="411.6" height="43.3" fill="#e6c8ca"/>
<text x="66.4" y="2154.3" font-size="29.8" fill="#4f4a4a" stroke="#4f4a4a" stroke-width="0.75" textLength="376.7" lengthAdjust="spacingAndGlyphs"><tspan font-weight="bold">3</tspan> Diputados/as Nacionales</text>
<rect x="47.7" y="2191.2" width="415.9" height="86.4" fill="#808080"/>
<text x="69.2" y="2226.9" font-size="38.4" font-weight="bold" fill="#fff" text-anchor="start" textLength="157.8" lengthAdjust="spacingAndGlyphs" stroke="#fff" stroke-width="2.3" stroke-linejoin="miter" stroke-miterlimit="2.5" style="white-space:pre">TIERRA</text>
<text x="70.3" y="2268.2" font-size="38.4" font-weight="bold" fill="#fff" text-anchor="start" textLength="241.3" lengthAdjust="spacingAndGlyphs" stroke="#fff" stroke-width="2.3" stroke-linejoin="miter" stroke-miterlimit="2.5" style="white-space:pre">DEL FUEGO</text>
<rect x="47.7" y="2285.5" width="414.1" height="43.4" fill="#f3bbaa"/>
<text x="71.4" y="2316.7" font-size="29.8" fill="#4f4a4a" stroke="#4f4a4a" stroke-width="0.75" textLength="379.6" lengthAdjust="spacingAndGlyphs"><tspan font-weight="bold">3</tspan> Senadores/as Nacionales</text>
<rect x="47.7" y="2333.6" width="414.1" height="43.7" fill="#e6c8ca"/>
<text x="69.6" y="2364.0" font-size="29.8" fill="#4f4a4a" stroke="#4f4a4a" stroke-width="0.75" textLength="377.1" lengthAdjust="spacingAndGlyphs"><tspan font-weight="bold">2</tspan> Diputados/as Nacionales</text>
<rect x="1213.9" y="641.5" width="429.6" height="43.8" fill="#808080"/>
<text x="1242.3" y="681.5" font-size="38.4" font-weight="bold" fill="#fff" text-anchor="start" textLength="218.7" lengthAdjust="spacingAndGlyphs" stroke="#fff" stroke-width="2.3" stroke-linejoin="miter" stroke-miterlimit="2.5" style="white-space:pre">FORMOSA</text>
<rect x="1213.9" y="689.2" width="429.6" height="43.4" fill="#e6c8ca"/>
<text x="1242.7" y="716.8" font-size="29.8" fill="#4f4a4a" stroke="#4f4a4a" stroke-width="0.75" textLength="377.4" lengthAdjust="spacingAndGlyphs"><tspan font-weight="bold">2</tspan> Diputados/as Nacionales</text>
<rect x="1216.5" y="754.8" width="429.9" height="43.4" fill="#808080"/>
<text x="1242.3" y="788.7" font-size="38.4" font-weight="bold" fill="#fff" text-anchor="start" textLength="156.7" lengthAdjust="spacingAndGlyphs" stroke="#fff" stroke-width="2.3" stroke-linejoin="miter" stroke-miterlimit="2.5" style="white-space:pre">CHACO</text>
<rect x="1216.5" y="802.5" width="429.9" height="43.4" fill="#f3bbaa"/>
<text x="1242.7" y="829.8" font-size="29.8" fill="#4f4a4a" stroke="#4f4a4a" stroke-width="0.75" textLength="379.2" lengthAdjust="spacingAndGlyphs"><tspan font-weight="bold">3</tspan> Senadores/as Nacionales</text>
<rect x="1215.4" y="850.5" width="430.6" height="43.8" fill="#e6c8ca"/>
<text x="1243.4" y="882.8" font-size="29.8" fill="#4f4a4a" stroke="#4f4a4a" stroke-width="0.75" textLength="378.8" lengthAdjust="spacingAndGlyphs"><tspan font-weight="bold">4</tspan> Diputados/as Nacionales</text>
<rect x="1216.5" y="918.0" width="429.9" height="88.5" fill="#808080"/>
<text x="1242.3" y="958.3" font-size="38.4" font-weight="bold" fill="#fff" text-anchor="start" textLength="225.2" lengthAdjust="spacingAndGlyphs" stroke="#fff" stroke-width="2.3" stroke-linejoin="miter" stroke-miterlimit="2.5" style="white-space:pre">SANTIAGO</text>
<text x="1242.3" y="999.5" font-size="38.4" font-weight="bold" fill="#fff" text-anchor="start" textLength="263.5" lengthAdjust="spacingAndGlyphs" stroke="#fff" stroke-width="2.3" stroke-linejoin="miter" stroke-miterlimit="2.5" style="white-space:pre">DEL ESTERO</text>
<rect x="1216.5" y="1014.7" width="430.2" height="43.0" fill="#f3bbaa"/>
<text x="1242.7" y="1046.6" font-size="29.8" fill="#4f4a4a" stroke="#4f4a4a" stroke-width="0.75" textLength="379.2" lengthAdjust="spacingAndGlyphs"><tspan font-weight="bold">3</tspan> Senadores/as Nacionales</text>
<rect x="1216.5" y="1062.7" width="430.2" height="43.4" fill="#e6c8ca"/>
<text x="1242.7" y="1092.5" font-size="29.8" fill="#4f4a4a" stroke="#4f4a4a" stroke-width="0.75" textLength="377.4" lengthAdjust="spacingAndGlyphs"><tspan font-weight="bold">3</tspan> Diputados/as Nacionales</text>
<rect x="1216.5" y="1142.7" width="429.9" height="43.4" fill="#808080"/>
<text x="1243.0" y="1178.8" font-size="38.4" font-weight="bold" fill="#fff" text-anchor="start" textLength="209.1" lengthAdjust="spacingAndGlyphs" stroke="#fff" stroke-width="2.3" stroke-linejoin="miter" stroke-miterlimit="2.5" style="white-space:pre">MISIONES</text>
<rect x="1216.5" y="1190.0" width="429.9" height="43.8" fill="#e6c8ca"/>
<text x="1242.7" y="1218.7" font-size="29.8" fill="#4f4a4a" stroke="#4f4a4a" stroke-width="0.75" textLength="377.4" lengthAdjust="spacingAndGlyphs"><tspan font-weight="bold">3</tspan> Diputados/as Nacionales</text>
<rect x="1213.9" y="1262.8" width="429.6" height="43.4" fill="#808080"/>
<text x="1242.3" y="1299.3" font-size="38.4" font-weight="bold" fill="#fff" text-anchor="start" textLength="273.6" lengthAdjust="spacingAndGlyphs" stroke="#fff" stroke-width="2.3" stroke-linejoin="miter" stroke-miterlimit="2.5" style="white-space:pre">CORRIENTES</text>
<rect x="1213.9" y="1310.2" width="429.6" height="43.7" fill="#e6c8ca"/>
<text x="1242.7" y="1339.5" font-size="29.8" fill="#4f4a4a" stroke="#4f4a4a" stroke-width="0.75" textLength="377.4" lengthAdjust="spacingAndGlyphs"><tspan font-weight="bold">3</tspan> Diputados/as Nacionales</text>
<rect x="1216.5" y="1381.2" width="429.9" height="43.7" fill="#808080"/>
<text x="1242.3" y="1416.9" font-size="38.4" font-weight="bold" fill="#fff" text-anchor="start" textLength="211.6" lengthAdjust="spacingAndGlyphs" stroke="#fff" stroke-width="2.3" stroke-linejoin="miter" stroke-miterlimit="2.5" style="white-space:pre">SANTA FE</text>
<rect x="1216.5" y="1428.8" width="429.9" height="43.4" fill="#e6c8ca"/>
<text x="1242.7" y="1460.4" font-size="29.8" fill="#4f4a4a" stroke="#4f4a4a" stroke-width="0.75" textLength="378.5" lengthAdjust="spacingAndGlyphs"><tspan font-weight="bold">9</tspan> Diputados/as Nacionales</text>
<rect x="1216.5" y="1498.8" width="429.9" height="43.3" fill="#808080"/>
<text x="1243.0" y="1535.2" font-size="38.4" font-weight="bold" fill="#fff" text-anchor="start" textLength="255.0" lengthAdjust="spacingAndGlyphs" stroke="#fff" stroke-width="2.3" stroke-linejoin="miter" stroke-miterlimit="2.5" style="white-space:pre">ENTRE RÍOS</text>
<rect x="1216.5" y="1545.4" width="430.2" height="43.4" fill="#f3bbaa"/>
<text x="1246.3" y="1571.5" font-size="29.8" fill="#4f4a4a" stroke="#4f4a4a" stroke-width="0.75" textLength="378.5" lengthAdjust="spacingAndGlyphs"><tspan font-weight="bold">3</tspan> Senadores/as Nacionales</text>
<rect x="1216.5" y="1593.8" width="430.2" height="43.4" fill="#e6c8ca"/>
<text x="1242.7" y="1622.8" font-size="29.8" fill="#4f4a4a" stroke="#4f4a4a" stroke-width="0.75" textLength="377.4" lengthAdjust="spacingAndGlyphs"><tspan font-weight="bold">5</tspan> Diputados/as Nacionales</text>
<rect x="1216.5" y="1673.0" width="429.9" height="43.4" fill="#808080"/>
<text x="1242.3" y="1708.0" font-size="38.4" font-weight="bold" fill="#fff" text-anchor="start" textLength="222.3" lengthAdjust="spacingAndGlyphs" stroke="#fff" stroke-width="2.3" stroke-linejoin="miter" stroke-miterlimit="2.5" style="white-space:pre">CÓRDOBA</text>
<rect x="1216.5" y="1720.4" width="429.9" height="43.8" fill="#e6c8ca"/>
<text x="1242.7" y="1753.8" font-size="29.8" fill="#4f4a4a" stroke="#4f4a4a" stroke-width="0.75" textLength="378.5" lengthAdjust="spacingAndGlyphs"><tspan font-weight="bold">9</tspan> Diputados/as Nacionales</text>
<rect x="1216.5" y="1792.9" width="429.9" height="51.2" fill="#808080"/>
<text x="1242.3" y="1829.7" font-size="38.4" font-weight="bold" fill="#fff" text-anchor="start" textLength="396.2" lengthAdjust="spacingAndGlyphs" stroke="#fff" stroke-width="2.3" stroke-linejoin="miter" stroke-miterlimit="2.5" style="white-space:pre">CAPITAL FEDERAL</text>
<rect x="1216.5" y="1850.6" width="430.2" height="43.4" fill="#f3bbaa"/>
<text x="1242.7" y="1880.4" font-size="29.8" fill="#4f4a4a" stroke="#4f4a4a" stroke-width="0.75" textLength="379.2" lengthAdjust="spacingAndGlyphs"><tspan font-weight="bold">3</tspan> Senadores/as Nacionales</text>
<rect x="1216.5" y="1898.3" width="430.2" height="43.7" fill="#e6c8ca"/>
<text x="1242.7" y="1928.0" font-size="29.8" fill="#4f4a4a" stroke="#4f4a4a" stroke-width="0.75" textLength="387.4" lengthAdjust="spacingAndGlyphs"><tspan font-weight="bold">13</tspan> Diputados/as Nacionales</text>
<rect x="1216.5" y="1975.7" width="429.9" height="43.4" fill="#808080"/>
<text x="1243.0" y="2012.2" font-size="38.4" font-weight="bold" fill="#fff" text-anchor="start" textLength="319.1" lengthAdjust="spacingAndGlyphs" stroke="#fff" stroke-width="2.3" stroke-linejoin="miter" stroke-miterlimit="2.5" style="white-space:pre">BUENOS AIRES</text>
<rect x="1216.5" y="2022.7" width="429.9" height="43.7" fill="#e6c8ca"/>
<text x="1242.7" y="2054.2" font-size="29.8" fill="#4f4a4a" stroke="#4f4a4a" stroke-width="0.75" textLength="393.5" lengthAdjust="spacingAndGlyphs"><tspan font-weight="bold">35</tspan> Diputados/as Nacionales</text>
<rect x="1213.9" y="2107.0" width="429.6" height="43.7" fill="#808080"/>
<text x="1242.3" y="2144.1" font-size="38.4" font-weight="bold" fill="#fff" text-anchor="start" textLength="229.5" lengthAdjust="spacingAndGlyphs" stroke="#fff" stroke-width="2.3" stroke-linejoin="miter" stroke-miterlimit="2.5" style="white-space:pre">LA PAMPA</text>
<rect x="1213.9" y="2154.7" width="429.6" height="43.3" fill="#e6c8ca"/>
<text x="1242.7" y="2183.0" font-size="29.8" fill="#4f4a4a" stroke="#4f4a4a" stroke-width="0.75" textLength="377.4" lengthAdjust="spacingAndGlyphs"><tspan font-weight="bold">3</tspan> Diputados/as Nacionales</text>
<rect x="0" y="2417.5" width="1680" height="47" fill="#d4a57f"/>
<rect x="0" y="2464.4" width="1680" height="96" fill="#000"/>
<text x="602.5" y="2452.6" font-size="27.3" font-weight="normal" fill="#1a1a1a" text-anchor="start" textLength="473.5" lengthAdjust="spacingAndGlyphs">FUENTE: CÁMARA NACIONAL ELECTORAL.</text>
<text x="750.9" y="2527.9" font-size="51.5" font-weight="bold" fill="#fff" text-anchor="start" textLength="175.5" lengthAdjust="spacingAndGlyphs">infobae</text>
</svg>
</body></html>
